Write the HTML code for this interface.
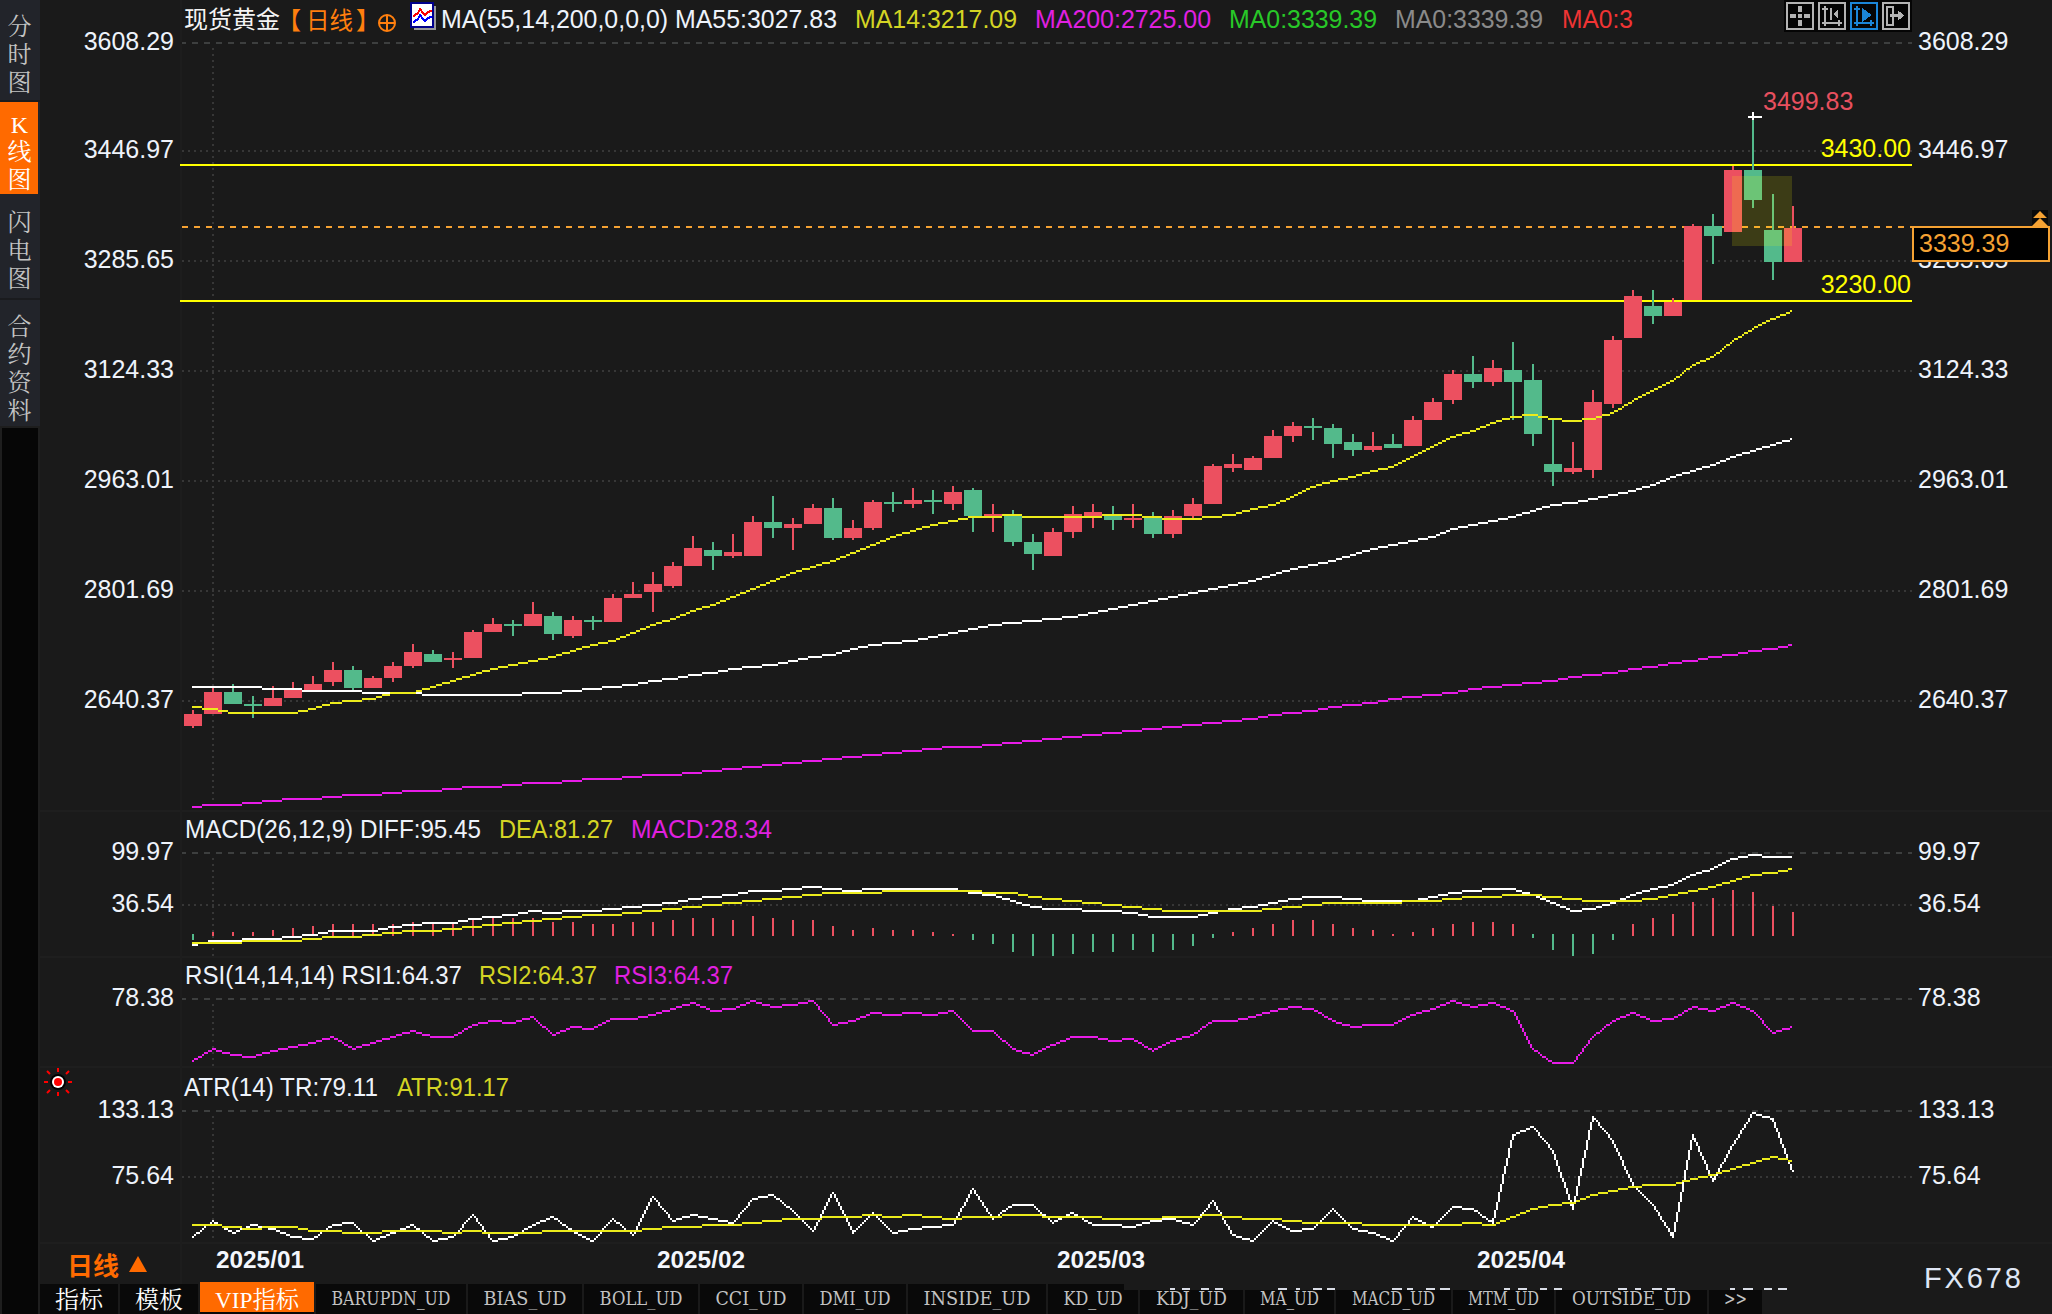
<!DOCTYPE html>
<html lang="zh"><head><meta charset="utf-8"><title>现货黄金 日线</title>
<style>html,body{margin:0;padding:0;background:#1a1a1a;overflow:hidden}svg{display:block}</style>
</head><body>
<svg width="2052" height="1314" viewBox="0 0 2052 1314" font-family="Liberation Sans, Noto Sans CJK SC, sans-serif" shape-rendering="crispEdges">
<rect x="0" y="0" width="2052" height="1314" fill="#1a1a1a"/>
<rect x="0" y="0" width="40" height="426" fill="#22242a"/>
<rect x="0" y="426" width="40" height="888" fill="#1e1e1e"/>
<rect x="2" y="428" width="36" height="886" fill="#060606"/>
<rect x="0" y="100" width="40" height="2" fill="#1a1b1e"/>
<rect x="0" y="298" width="40" height="2" fill="#1a1b1e"/>
<rect x="0" y="102" width="38" height="92" fill="#ff6a00"/>
<text x="19.5" y="35" font-size="24" fill="#c4c4c4" text-anchor="middle" font-family="Liberation Serif, Noto Serif CJK SC, serif">分</text>
<text x="19.5" y="63" font-size="24" fill="#c4c4c4" text-anchor="middle" font-family="Liberation Serif, Noto Serif CJK SC, serif">时</text>
<text x="19.5" y="91" font-size="24" fill="#c4c4c4" text-anchor="middle" font-family="Liberation Serif, Noto Serif CJK SC, serif">图</text>
<text x="19.5" y="133" font-size="24" fill="#ffffff" text-anchor="middle" font-family="Liberation Serif, Noto Serif CJK SC, serif">K</text>
<text x="19.5" y="160" font-size="24" fill="#ffffff" text-anchor="middle" font-family="Liberation Serif, Noto Serif CJK SC, serif">线</text>
<text x="19.5" y="188" font-size="24" fill="#ffffff" text-anchor="middle" font-family="Liberation Serif, Noto Serif CJK SC, serif">图</text>
<text x="19.5" y="231" font-size="24" fill="#c4c4c4" text-anchor="middle" font-family="Liberation Serif, Noto Serif CJK SC, serif">闪</text>
<text x="19.5" y="259" font-size="24" fill="#c4c4c4" text-anchor="middle" font-family="Liberation Serif, Noto Serif CJK SC, serif">电</text>
<text x="19.5" y="287" font-size="24" fill="#c4c4c4" text-anchor="middle" font-family="Liberation Serif, Noto Serif CJK SC, serif">图</text>
<text x="19.5" y="335" font-size="24" fill="#c4c4c4" text-anchor="middle" font-family="Liberation Serif, Noto Serif CJK SC, serif">合</text>
<text x="19.5" y="363" font-size="24" fill="#c4c4c4" text-anchor="middle" font-family="Liberation Serif, Noto Serif CJK SC, serif">约</text>
<text x="19.5" y="391" font-size="24" fill="#c4c4c4" text-anchor="middle" font-family="Liberation Serif, Noto Serif CJK SC, serif">资</text>
<text x="19.5" y="419" font-size="24" fill="#c4c4c4" text-anchor="middle" font-family="Liberation Serif, Noto Serif CJK SC, serif">料</text>
<rect x="40" y="810" width="2012" height="2" fill="#1e1e1e"/>
<rect x="40" y="956" width="2012" height="2" fill="#1e1e1e"/>
<rect x="40" y="1066" width="2012" height="2" fill="#1e1e1e"/>
<rect x="40" y="1242" width="2012" height="2" fill="#1e1e1e"/>
<rect x="180" y="0" width="2" height="1284" fill="#1d1d1d"/>
<line x1="180" y1="43" x2="1912" y2="43" stroke="#3d3f3f" stroke-width="2" stroke-dasharray="6 6"/>
<rect x="180" y="42" width="2" height="2" fill="#1a1a1a"/>
<line x1="182" y1="151" x2="1912" y2="151" stroke="#373737" stroke-width="2" stroke-dasharray="2 4"/>
<line x1="182" y1="261" x2="1912" y2="261" stroke="#373737" stroke-width="2" stroke-dasharray="2 4"/>
<line x1="182" y1="371" x2="1912" y2="371" stroke="#373737" stroke-width="2" stroke-dasharray="2 4"/>
<line x1="182" y1="481" x2="1912" y2="481" stroke="#373737" stroke-width="2" stroke-dasharray="2 4"/>
<line x1="182" y1="591" x2="1912" y2="591" stroke="#373737" stroke-width="2" stroke-dasharray="2 4"/>
<line x1="182" y1="701" x2="1912" y2="701" stroke="#373737" stroke-width="2" stroke-dasharray="2 4"/>
<line x1="180" y1="853" x2="1912" y2="853" stroke="#3d3f3f" stroke-width="2" stroke-dasharray="6 6"/>
<rect x="180" y="852" width="2" height="2" fill="#1a1a1a"/>
<line x1="182" y1="905" x2="1912" y2="905" stroke="#373737" stroke-width="2" stroke-dasharray="2 4"/>
<line x1="180" y1="999" x2="1912" y2="999" stroke="#3d3f3f" stroke-width="2" stroke-dasharray="6 6"/>
<rect x="180" y="998" width="2" height="2" fill="#1a1a1a"/>
<line x1="180" y1="1111" x2="1912" y2="1111" stroke="#3d3f3f" stroke-width="2" stroke-dasharray="6 6"/>
<rect x="180" y="1110" width="2" height="2" fill="#1a1a1a"/>
<line x1="182" y1="1177" x2="1912" y2="1177" stroke="#373737" stroke-width="2" stroke-dasharray="2 4"/>
<line x1="213" y1="48" x2="213" y2="808" stroke="#373737" stroke-width="2" stroke-dasharray="2 4"/>
<line x1="213" y1="858" x2="213" y2="956" stroke="#373737" stroke-width="2" stroke-dasharray="2 4"/>
<line x1="213" y1="1004" x2="213" y2="1066" stroke="#373737" stroke-width="2" stroke-dasharray="2 4"/>
<line x1="213" y1="1116" x2="213" y2="1242" stroke="#373737" stroke-width="2" stroke-dasharray="2 4"/>
<rect x="180" y="164" width="1732" height="2" fill="#ffff00"/>
<rect x="180" y="300" width="1732" height="2" fill="#ffff00"/>
<line x1="182" y1="227" x2="1912" y2="227" stroke="#f5a233" stroke-width="2" stroke-dasharray="6 6"/>
<rect x="192" y="710" width="2" height="18" fill="#ec5060"/>
<rect x="184" y="714" width="18" height="12" fill="#ec5060"/>
<rect x="212" y="688" width="2" height="26" fill="#ec5060"/>
<rect x="204" y="692" width="18" height="22" fill="#ec5060"/>
<rect x="232" y="684" width="2" height="20" fill="#53ba8b"/>
<rect x="224" y="692" width="18" height="12" fill="#53ba8b"/>
<rect x="252" y="696" width="2" height="22" fill="#53ba8b"/>
<rect x="244" y="704" width="18" height="2" fill="#53ba8b"/>
<rect x="272" y="686" width="2" height="20" fill="#ec5060"/>
<rect x="264" y="698" width="18" height="8" fill="#ec5060"/>
<rect x="292" y="682" width="2" height="16" fill="#ec5060"/>
<rect x="284" y="690" width="18" height="8" fill="#ec5060"/>
<rect x="312" y="676" width="2" height="14" fill="#ec5060"/>
<rect x="304" y="684" width="18" height="6" fill="#ec5060"/>
<rect x="332" y="662" width="2" height="24" fill="#ec5060"/>
<rect x="324" y="670" width="18" height="12" fill="#ec5060"/>
<rect x="352" y="666" width="2" height="24" fill="#53ba8b"/>
<rect x="344" y="670" width="18" height="18" fill="#53ba8b"/>
<rect x="372" y="676" width="2" height="12" fill="#ec5060"/>
<rect x="364" y="678" width="18" height="10" fill="#ec5060"/>
<rect x="392" y="662" width="2" height="20" fill="#ec5060"/>
<rect x="384" y="666" width="18" height="12" fill="#ec5060"/>
<rect x="412" y="644" width="2" height="24" fill="#ec5060"/>
<rect x="404" y="652" width="18" height="14" fill="#ec5060"/>
<rect x="432" y="650" width="2" height="12" fill="#53ba8b"/>
<rect x="424" y="654" width="18" height="8" fill="#53ba8b"/>
<rect x="452" y="652" width="2" height="16" fill="#ec5060"/>
<rect x="444" y="658" width="18" height="2" fill="#ec5060"/>
<rect x="472" y="630" width="2" height="28" fill="#ec5060"/>
<rect x="464" y="632" width="18" height="26" fill="#ec5060"/>
<rect x="492" y="618" width="2" height="14" fill="#ec5060"/>
<rect x="484" y="624" width="18" height="8" fill="#ec5060"/>
<rect x="512" y="620" width="2" height="16" fill="#53ba8b"/>
<rect x="504" y="624" width="18" height="2" fill="#53ba8b"/>
<rect x="532" y="602" width="2" height="24" fill="#ec5060"/>
<rect x="524" y="614" width="18" height="12" fill="#ec5060"/>
<rect x="552" y="612" width="2" height="28" fill="#53ba8b"/>
<rect x="544" y="616" width="18" height="18" fill="#53ba8b"/>
<rect x="572" y="616" width="2" height="22" fill="#ec5060"/>
<rect x="564" y="620" width="18" height="16" fill="#ec5060"/>
<rect x="592" y="616" width="2" height="14" fill="#53ba8b"/>
<rect x="584" y="620" width="18" height="2" fill="#53ba8b"/>
<rect x="612" y="594" width="2" height="28" fill="#ec5060"/>
<rect x="604" y="598" width="18" height="24" fill="#ec5060"/>
<rect x="632" y="582" width="2" height="16" fill="#ec5060"/>
<rect x="624" y="594" width="18" height="4" fill="#ec5060"/>
<rect x="652" y="572" width="2" height="40" fill="#ec5060"/>
<rect x="644" y="584" width="18" height="8" fill="#ec5060"/>
<rect x="672" y="562" width="2" height="26" fill="#ec5060"/>
<rect x="664" y="566" width="18" height="20" fill="#ec5060"/>
<rect x="692" y="536" width="2" height="30" fill="#ec5060"/>
<rect x="684" y="548" width="18" height="18" fill="#ec5060"/>
<rect x="712" y="542" width="2" height="28" fill="#53ba8b"/>
<rect x="704" y="550" width="18" height="6" fill="#53ba8b"/>
<rect x="732" y="534" width="2" height="24" fill="#ec5060"/>
<rect x="724" y="552" width="18" height="4" fill="#ec5060"/>
<rect x="752" y="516" width="2" height="40" fill="#ec5060"/>
<rect x="744" y="522" width="18" height="34" fill="#ec5060"/>
<rect x="772" y="496" width="2" height="42" fill="#53ba8b"/>
<rect x="764" y="522" width="18" height="6" fill="#53ba8b"/>
<rect x="792" y="518" width="2" height="32" fill="#ec5060"/>
<rect x="784" y="524" width="18" height="4" fill="#ec5060"/>
<rect x="812" y="504" width="2" height="20" fill="#ec5060"/>
<rect x="804" y="508" width="18" height="16" fill="#ec5060"/>
<rect x="832" y="498" width="2" height="42" fill="#53ba8b"/>
<rect x="824" y="508" width="18" height="30" fill="#53ba8b"/>
<rect x="852" y="520" width="2" height="20" fill="#ec5060"/>
<rect x="844" y="528" width="18" height="10" fill="#ec5060"/>
<rect x="872" y="500" width="2" height="30" fill="#ec5060"/>
<rect x="864" y="502" width="18" height="26" fill="#ec5060"/>
<rect x="892" y="492" width="2" height="20" fill="#53ba8b"/>
<rect x="884" y="502" width="18" height="2" fill="#53ba8b"/>
<rect x="912" y="488" width="2" height="20" fill="#ec5060"/>
<rect x="904" y="500" width="18" height="4" fill="#ec5060"/>
<rect x="932" y="490" width="2" height="24" fill="#53ba8b"/>
<rect x="924" y="500" width="18" height="2" fill="#53ba8b"/>
<rect x="952" y="486" width="2" height="24" fill="#ec5060"/>
<rect x="944" y="492" width="18" height="12" fill="#ec5060"/>
<rect x="972" y="488" width="2" height="44" fill="#53ba8b"/>
<rect x="964" y="490" width="18" height="26" fill="#53ba8b"/>
<rect x="992" y="504" width="2" height="28" fill="#ec5060"/>
<rect x="984" y="514" width="18" height="4" fill="#ec5060"/>
<rect x="1012" y="510" width="2" height="36" fill="#53ba8b"/>
<rect x="1004" y="516" width="18" height="26" fill="#53ba8b"/>
<rect x="1032" y="534" width="2" height="36" fill="#53ba8b"/>
<rect x="1024" y="542" width="18" height="12" fill="#53ba8b"/>
<rect x="1052" y="528" width="2" height="28" fill="#ec5060"/>
<rect x="1044" y="532" width="18" height="24" fill="#ec5060"/>
<rect x="1072" y="506" width="2" height="32" fill="#ec5060"/>
<rect x="1064" y="514" width="18" height="18" fill="#ec5060"/>
<rect x="1092" y="504" width="2" height="24" fill="#ec5060"/>
<rect x="1084" y="512" width="18" height="4" fill="#ec5060"/>
<rect x="1112" y="506" width="2" height="24" fill="#53ba8b"/>
<rect x="1104" y="514" width="18" height="6" fill="#53ba8b"/>
<rect x="1132" y="504" width="2" height="24" fill="#ec5060"/>
<rect x="1124" y="518" width="18" height="2" fill="#ec5060"/>
<rect x="1152" y="512" width="2" height="26" fill="#53ba8b"/>
<rect x="1144" y="516" width="18" height="18" fill="#53ba8b"/>
<rect x="1172" y="510" width="2" height="28" fill="#ec5060"/>
<rect x="1164" y="516" width="18" height="18" fill="#ec5060"/>
<rect x="1192" y="498" width="2" height="20" fill="#ec5060"/>
<rect x="1184" y="504" width="18" height="12" fill="#ec5060"/>
<rect x="1212" y="464" width="2" height="40" fill="#ec5060"/>
<rect x="1204" y="466" width="18" height="38" fill="#ec5060"/>
<rect x="1232" y="454" width="2" height="18" fill="#ec5060"/>
<rect x="1224" y="464" width="18" height="4" fill="#ec5060"/>
<rect x="1252" y="456" width="2" height="14" fill="#ec5060"/>
<rect x="1244" y="458" width="18" height="12" fill="#ec5060"/>
<rect x="1272" y="430" width="2" height="28" fill="#ec5060"/>
<rect x="1264" y="436" width="18" height="22" fill="#ec5060"/>
<rect x="1292" y="422" width="2" height="20" fill="#ec5060"/>
<rect x="1284" y="426" width="18" height="10" fill="#ec5060"/>
<rect x="1312" y="418" width="2" height="22" fill="#53ba8b"/>
<rect x="1304" y="426" width="18" height="2" fill="#53ba8b"/>
<rect x="1332" y="424" width="2" height="34" fill="#53ba8b"/>
<rect x="1324" y="428" width="18" height="16" fill="#53ba8b"/>
<rect x="1352" y="434" width="2" height="22" fill="#53ba8b"/>
<rect x="1344" y="442" width="18" height="8" fill="#53ba8b"/>
<rect x="1372" y="432" width="2" height="20" fill="#ec5060"/>
<rect x="1364" y="446" width="18" height="4" fill="#ec5060"/>
<rect x="1392" y="434" width="2" height="14" fill="#53ba8b"/>
<rect x="1384" y="444" width="18" height="4" fill="#53ba8b"/>
<rect x="1412" y="416" width="2" height="30" fill="#ec5060"/>
<rect x="1404" y="420" width="18" height="26" fill="#ec5060"/>
<rect x="1432" y="398" width="2" height="22" fill="#ec5060"/>
<rect x="1424" y="402" width="18" height="18" fill="#ec5060"/>
<rect x="1452" y="370" width="2" height="34" fill="#ec5060"/>
<rect x="1444" y="374" width="18" height="26" fill="#ec5060"/>
<rect x="1472" y="356" width="2" height="32" fill="#53ba8b"/>
<rect x="1464" y="374" width="18" height="8" fill="#53ba8b"/>
<rect x="1492" y="360" width="2" height="26" fill="#ec5060"/>
<rect x="1484" y="368" width="18" height="14" fill="#ec5060"/>
<rect x="1512" y="342" width="2" height="78" fill="#53ba8b"/>
<rect x="1504" y="370" width="18" height="12" fill="#53ba8b"/>
<rect x="1532" y="364" width="2" height="82" fill="#53ba8b"/>
<rect x="1524" y="380" width="18" height="54" fill="#53ba8b"/>
<rect x="1552" y="418" width="2" height="68" fill="#53ba8b"/>
<rect x="1544" y="464" width="18" height="8" fill="#53ba8b"/>
<rect x="1572" y="442" width="2" height="32" fill="#ec5060"/>
<rect x="1564" y="468" width="18" height="4" fill="#ec5060"/>
<rect x="1592" y="390" width="2" height="88" fill="#ec5060"/>
<rect x="1584" y="402" width="18" height="68" fill="#ec5060"/>
<rect x="1612" y="336" width="2" height="72" fill="#ec5060"/>
<rect x="1604" y="340" width="18" height="64" fill="#ec5060"/>
<rect x="1632" y="290" width="2" height="48" fill="#ec5060"/>
<rect x="1624" y="296" width="18" height="42" fill="#ec5060"/>
<rect x="1652" y="290" width="2" height="34" fill="#53ba8b"/>
<rect x="1644" y="306" width="18" height="10" fill="#53ba8b"/>
<rect x="1672" y="298" width="2" height="18" fill="#ec5060"/>
<rect x="1664" y="302" width="18" height="14" fill="#ec5060"/>
<rect x="1692" y="224" width="2" height="76" fill="#ec5060"/>
<rect x="1684" y="226" width="18" height="74" fill="#ec5060"/>
<rect x="1712" y="214" width="2" height="50" fill="#53ba8b"/>
<rect x="1704" y="226" width="18" height="10" fill="#53ba8b"/>
<rect x="1732" y="166" width="2" height="66" fill="#ec5060"/>
<rect x="1724" y="170" width="18" height="62" fill="#ec5060"/>
<rect x="1752" y="116" width="2" height="92" fill="#53ba8b"/>
<rect x="1744" y="170" width="18" height="30" fill="#53ba8b"/>
<rect x="1772" y="194" width="2" height="86" fill="#53ba8b"/>
<rect x="1764" y="230" width="18" height="32" fill="#53ba8b"/>
<rect x="1792" y="206" width="2" height="56" fill="#ec5060"/>
<rect x="1784" y="228" width="18" height="34" fill="#ec5060"/>
<rect x="1732" y="176" width="60" height="70" fill="rgba(255,255,0,0.15)"/>
<rect x="1748" y="116" width="14" height="2" fill="#ffffff"/>
<rect x="1752" y="112" width="2" height="8" fill="#ffffff"/>
<path d="M1788 644h4v2h-4zM1778 646h10v2h-10zM1762 648h16v2h-16zM1748 650h14v2h-14zM1738 652h10v2h-10zM1722 654h16v2h-16zM1708 656h14v2h-14zM1698 658h10v2h-10zM1682 660h16v2h-16zM1668 662h14v2h-14zM1658 664h10v2h-10zM1642 666h16v2h-16zM1628 668h14v2h-14zM1618 670h10v2h-10zM1602 672h16v2h-16zM1582 674h20v2h-20zM1568 676h14v2h-14zM1558 678h10v2h-10zM1542 680h16v2h-16zM1522 682h20v2h-20zM1502 684h20v2h-20zM1482 686h20v2h-20zM1468 688h14v2h-14zM1458 690h10v2h-10zM1442 692h16v2h-16zM1422 694h20v2h-20zM1402 696h20v2h-20zM1388 698h14v2h-14zM1378 700h10v2h-10zM1362 702h16v2h-16zM1342 704h20v2h-20zM1328 706h14v2h-14zM1318 708h10v2h-10zM1302 710h16v2h-16zM1282 712h20v2h-20zM1268 714h14v2h-14zM1258 716h10v2h-10zM1242 718h16v2h-16zM1222 720h20v2h-20zM1202 722h20v2h-20zM1182 724h20v2h-20zM1162 726h20v2h-20zM1142 728h20v2h-20zM1122 730h20v2h-20zM1102 732h20v2h-20zM1082 734h20v2h-20zM1062 736h20v2h-20zM1042 738h20v2h-20zM1022 740h20v2h-20zM1002 742h20v2h-20zM982 744h20v2h-20zM942 746h40v2h-40zM922 748h20v2h-20zM902 750h20v2h-20zM882 752h20v2h-20zM862 754h20v2h-20zM842 756h20v2h-20zM822 758h20v2h-20zM802 760h20v2h-20zM782 762h20v2h-20zM762 764h20v2h-20zM742 766h20v2h-20zM722 768h20v2h-20zM702 770h20v2h-20zM682 772h20v2h-20zM642 774h40v2h-40zM622 776h20v2h-20zM582 778h40v2h-40zM562 780h20v2h-20zM522 782h40v2h-40zM502 784h20v2h-20zM462 786h40v2h-40zM442 788h20v2h-20zM402 790h40v2h-40zM382 792h20v2h-20zM342 794h40v2h-40zM322 796h20v2h-20zM282 798h40v2h-40zM262 800h20v2h-20zM242 802h20v2h-20zM202 804h40v2h-40zM192 806h10v2h-10z" fill="#e81ce8"/>
<path d="M1790 438h2v2h-2zM1782 440h8v2h-8zM1776 442h6v2h-6zM1770 444h6v2h-6zM1762 446h8v2h-8zM1756 448h6v2h-6zM1750 450h6v2h-6zM1742 452h8v2h-8zM1736 454h6v2h-6zM1730 456h6v2h-6zM1726 458h4v2h-4zM1720 460h6v2h-6zM1716 462h4v2h-4zM1710 464h6v2h-6zM1702 466h8v2h-8zM1696 468h6v2h-6zM1690 470h6v2h-6zM1682 472h8v2h-8zM1676 474h6v2h-6zM1670 476h6v2h-6zM1666 478h4v2h-4zM1660 480h6v2h-6zM1656 482h4v2h-4zM1650 484h6v2h-6zM1642 486h8v2h-8zM1636 488h6v2h-6zM1628 490h8v2h-8zM1618 492h10v2h-10zM1608 494h10v2h-10zM1598 496h10v2h-10zM1588 498h10v2h-10zM1578 500h10v2h-10zM1562 502h16v2h-16zM1550 504h12v2h-12zM1542 506h8v2h-8zM1536 508h6v2h-6zM1530 510h6v2h-6zM1522 512h8v2h-8zM1516 514h6v2h-6zM1508 516h8v2h-8zM1498 518h10v2h-10zM1488 520h10v2h-10zM1478 522h10v2h-10zM1468 524h10v2h-10zM1458 526h10v2h-10zM1450 528h8v2h-8zM1446 530h4v2h-4zM1440 532h6v2h-6zM1436 534h4v2h-4zM1428 536h8v2h-8zM1418 538h10v2h-10zM1408 540h10v2h-10zM1398 542h10v2h-10zM1388 544h10v2h-10zM1378 546h10v2h-10zM1370 548h8v2h-8zM1362 550h8v2h-8zM1356 552h6v2h-6zM1350 554h6v2h-6zM1342 556h8v2h-8zM1336 558h6v2h-6zM1328 560h8v2h-8zM1318 562h10v2h-10zM1308 564h10v2h-10zM1298 566h10v2h-10zM1290 568h8v2h-8zM1282 570h8v2h-8zM1276 572h6v2h-6zM1270 574h6v2h-6zM1262 576h8v2h-8zM1256 578h6v2h-6zM1248 580h8v2h-8zM1238 582h10v2h-10zM1228 584h10v2h-10zM1218 586h10v2h-10zM1208 588h10v2h-10zM1198 590h10v2h-10zM1188 592h10v2h-10zM1178 594h10v2h-10zM1168 596h10v2h-10zM1158 598h10v2h-10zM1148 600h10v2h-10zM1138 602h10v2h-10zM1128 604h10v2h-10zM1118 606h10v2h-10zM1108 608h10v2h-10zM1098 610h10v2h-10zM1088 612h10v2h-10zM1078 614h10v2h-10zM1062 616h16v2h-16zM1042 618h20v2h-20zM1022 620h20v2h-20zM1002 622h20v2h-20zM988 624h14v2h-14zM978 626h10v2h-10zM968 628h10v2h-10zM958 630h10v2h-10zM948 632h10v2h-10zM938 634h10v2h-10zM928 636h10v2h-10zM918 638h10v2h-10zM902 640h16v2h-16zM882 642h20v2h-20zM868 644h14v2h-14zM858 646h10v2h-10zM850 648h8v2h-8zM842 650h8v2h-8zM836 652h6v2h-6zM822 654h14v2h-14zM808 656h14v2h-14zM798 658h10v2h-10zM788 660h10v2h-10zM778 662h10v2h-10zM762 664h16v2h-16zM742 666h20v2h-20zM728 668h14v2h-14zM718 670h10v2h-10zM702 672h16v2h-16zM688 674h14v2h-14zM678 676h10v2h-10zM662 678h16v2h-16zM648 680h14v2h-14zM638 682h10v2h-10zM622 684h16v2h-16zM192 686h70v2h-70zM602 686h20v2h-20zM262 688h40v2h-40zM582 688h20v2h-20zM302 690h60v2h-60zM562 690h20v2h-20zM362 692h60v2h-60zM522 692h40v2h-40zM422 694h100v2h-100z" fill="#ffffff"/>
<path d="M1790 310h2v2h-2zM1786 312h4v2h-4zM1780 314h6v2h-6zM1776 316h4v2h-4zM1770 318h6v2h-6zM1766 320h4v2h-4zM1762 322h4v2h-4zM1758 324h4v2h-4zM1754 326h4v2h-4zM1752 328h2v2h-2zM1748 330h4v2h-4zM1744 332h4v2h-4zM1742 334h2v2h-2zM1738 336h4v2h-4zM1734 338h4v2h-4zM1732 340h2v2h-2zM1730 342h2v2h-2zM1726 344h4v2h-4zM1724 346h2v2h-2zM1722 348h2v2h-2zM1720 350h2v2h-2zM1716 352h4v2h-4zM1714 354h2v2h-2zM1710 356h4v2h-4zM1706 358h4v2h-4zM1700 360h6v2h-6zM1696 362h4v2h-4zM1692 364h4v2h-4zM1690 366h2v2h-2zM1686 368h4v2h-4zM1684 370h2v2h-2zM1682 372h2v2h-2zM1680 374h2v2h-2zM1676 376h4v2h-4zM1674 378h2v2h-2zM1670 380h4v2h-4zM1666 382h4v2h-4zM1662 384h4v2h-4zM1658 386h4v2h-4zM1654 388h4v2h-4zM1650 390h4v2h-4zM1646 392h4v2h-4zM1642 394h4v2h-4zM1638 396h4v2h-4zM1634 398h4v2h-4zM1632 400h2v2h-2zM1628 402h4v2h-4zM1624 404h4v2h-4zM1622 406h2v2h-2zM1618 408h4v2h-4zM1614 410h4v2h-4zM1610 412h4v2h-4zM1522 414h16v2h-16zM1602 414h8v2h-8zM1510 416h12v2h-12zM1538 416h10v2h-10zM1596 416h6v2h-6zM1502 418h8v2h-8zM1548 418h14v2h-14zM1582 418h14v2h-14zM1496 420h6v2h-6zM1562 420h20v2h-20zM1490 422h6v2h-6zM1486 424h4v2h-4zM1480 426h6v2h-6zM1476 428h4v2h-4zM1470 430h6v2h-6zM1462 432h8v2h-8zM1456 434h6v2h-6zM1450 436h6v2h-6zM1446 438h4v2h-4zM1442 440h4v2h-4zM1438 442h4v2h-4zM1434 444h4v2h-4zM1430 446h4v2h-4zM1426 448h4v2h-4zM1422 450h4v2h-4zM1418 452h4v2h-4zM1414 454h4v2h-4zM1410 456h4v2h-4zM1406 458h4v2h-4zM1402 460h4v2h-4zM1398 462h4v2h-4zM1394 464h4v2h-4zM1388 466h6v2h-6zM1378 468h10v2h-10zM1370 470h8v2h-8zM1362 472h8v2h-8zM1356 474h6v2h-6zM1348 476h8v2h-8zM1338 478h10v2h-10zM1330 480h8v2h-8zM1322 482h8v2h-8zM1316 484h6v2h-6zM1310 486h6v2h-6zM1306 488h4v2h-4zM1302 490h4v2h-4zM1298 492h4v2h-4zM1294 494h4v2h-4zM1290 496h4v2h-4zM1286 498h4v2h-4zM1280 500h6v2h-6zM1276 502h4v2h-4zM1268 504h8v2h-8zM1258 506h10v2h-10zM1250 508h8v2h-8zM1242 510h8v2h-8zM1236 512h6v2h-6zM1002 514h20v2h-20zM1102 514h40v2h-40zM1222 514h14v2h-14zM968 516h34v2h-34zM1022 516h80v2h-80zM1142 516h20v2h-20zM1202 516h20v2h-20zM958 518h10v2h-10zM1162 518h40v2h-40zM948 520h10v2h-10zM938 522h10v2h-10zM930 524h8v2h-8zM922 526h8v2h-8zM916 528h6v2h-6zM910 530h6v2h-6zM902 532h8v2h-8zM896 534h6v2h-6zM890 536h6v2h-6zM886 538h4v2h-4zM880 540h6v2h-6zM876 542h4v2h-4zM870 544h6v2h-6zM866 546h4v2h-4zM860 548h6v2h-6zM856 550h4v2h-4zM850 552h6v2h-6zM846 554h4v2h-4zM840 556h6v2h-6zM836 558h4v2h-4zM830 560h6v2h-6zM822 562h8v2h-8zM816 564h6v2h-6zM810 566h6v2h-6zM802 568h8v2h-8zM796 570h6v2h-6zM790 572h6v2h-6zM786 574h4v2h-4zM780 576h6v2h-6zM776 578h4v2h-4zM770 580h6v2h-6zM766 582h4v2h-4zM760 584h6v2h-6zM756 586h4v2h-4zM750 588h6v2h-6zM746 590h4v2h-4zM740 592h6v2h-6zM736 594h4v2h-4zM730 596h6v2h-6zM726 598h4v2h-4zM720 600h6v2h-6zM716 602h4v2h-4zM710 604h6v2h-6zM702 606h8v2h-8zM696 608h6v2h-6zM690 610h6v2h-6zM686 612h4v2h-4zM680 614h6v2h-6zM676 616h4v2h-4zM670 618h6v2h-6zM662 620h8v2h-8zM656 622h6v2h-6zM650 624h6v2h-6zM646 626h4v2h-4zM640 628h6v2h-6zM636 630h4v2h-4zM630 632h6v2h-6zM626 634h4v2h-4zM620 636h6v2h-6zM616 638h4v2h-4zM608 640h8v2h-8zM598 642h10v2h-10zM590 644h8v2h-8zM582 646h8v2h-8zM576 648h6v2h-6zM570 650h6v2h-6zM562 652h8v2h-8zM556 654h6v2h-6zM548 656h8v2h-8zM538 658h10v2h-10zM528 660h10v2h-10zM518 662h10v2h-10zM508 664h10v2h-10zM498 666h10v2h-10zM490 668h8v2h-8zM482 670h8v2h-8zM476 672h6v2h-6zM470 674h6v2h-6zM462 676h8v2h-8zM456 678h6v2h-6zM450 680h6v2h-6zM442 682h8v2h-8zM436 684h6v2h-6zM430 686h6v2h-6zM422 688h8v2h-8zM416 690h6v2h-6zM390 692h26v2h-26zM382 694h8v2h-8zM376 696h6v2h-6zM362 698h14v2h-14zM342 700h20v2h-20zM330 702h12v2h-12zM322 704h8v2h-8zM192 706h10v2h-10zM316 706h6v2h-6zM202 708h16v2h-16zM308 708h8v2h-8zM218 710h10v2h-10zM298 710h10v2h-10zM228 712h70v2h-70z" fill="#ecec1c"/>
<rect x="192" y="934" width="2" height="6" fill="#53ba8b"/>
<rect x="212" y="932" width="2" height="4" fill="#ec5060"/>
<rect x="232" y="932" width="2" height="4" fill="#ec5060"/>
<rect x="252" y="932" width="2" height="4" fill="#ec5060"/>
<rect x="272" y="930" width="2" height="6" fill="#ec5060"/>
<rect x="292" y="928" width="2" height="8" fill="#ec5060"/>
<rect x="312" y="926" width="2" height="10" fill="#ec5060"/>
<rect x="332" y="924" width="2" height="12" fill="#ec5060"/>
<rect x="352" y="924" width="2" height="12" fill="#ec5060"/>
<rect x="372" y="924" width="2" height="12" fill="#ec5060"/>
<rect x="392" y="924" width="2" height="12" fill="#ec5060"/>
<rect x="412" y="922" width="2" height="14" fill="#ec5060"/>
<rect x="432" y="922" width="2" height="14" fill="#ec5060"/>
<rect x="452" y="922" width="2" height="14" fill="#ec5060"/>
<rect x="472" y="920" width="2" height="16" fill="#ec5060"/>
<rect x="492" y="918" width="2" height="18" fill="#ec5060"/>
<rect x="512" y="918" width="2" height="18" fill="#ec5060"/>
<rect x="532" y="918" width="2" height="18" fill="#ec5060"/>
<rect x="552" y="922" width="2" height="14" fill="#ec5060"/>
<rect x="572" y="922" width="2" height="14" fill="#ec5060"/>
<rect x="592" y="924" width="2" height="12" fill="#ec5060"/>
<rect x="612" y="924" width="2" height="12" fill="#ec5060"/>
<rect x="632" y="922" width="2" height="14" fill="#ec5060"/>
<rect x="652" y="922" width="2" height="14" fill="#ec5060"/>
<rect x="672" y="920" width="2" height="16" fill="#ec5060"/>
<rect x="692" y="918" width="2" height="18" fill="#ec5060"/>
<rect x="712" y="918" width="2" height="18" fill="#ec5060"/>
<rect x="732" y="920" width="2" height="16" fill="#ec5060"/>
<rect x="752" y="916" width="2" height="20" fill="#ec5060"/>
<rect x="772" y="918" width="2" height="18" fill="#ec5060"/>
<rect x="792" y="920" width="2" height="16" fill="#ec5060"/>
<rect x="812" y="920" width="2" height="16" fill="#ec5060"/>
<rect x="832" y="926" width="2" height="10" fill="#ec5060"/>
<rect x="852" y="930" width="2" height="6" fill="#ec5060"/>
<rect x="872" y="928" width="2" height="8" fill="#ec5060"/>
<rect x="892" y="930" width="2" height="6" fill="#ec5060"/>
<rect x="912" y="930" width="2" height="6" fill="#ec5060"/>
<rect x="932" y="932" width="2" height="4" fill="#ec5060"/>
<rect x="952" y="934" width="2" height="2" fill="#ec5060"/>
<rect x="972" y="934" width="2" height="6" fill="#53ba8b"/>
<rect x="992" y="934" width="2" height="10" fill="#53ba8b"/>
<rect x="1012" y="934" width="2" height="18" fill="#53ba8b"/>
<rect x="1032" y="934" width="2" height="22" fill="#53ba8b"/>
<rect x="1052" y="934" width="2" height="22" fill="#53ba8b"/>
<rect x="1072" y="934" width="2" height="20" fill="#53ba8b"/>
<rect x="1092" y="934" width="2" height="18" fill="#53ba8b"/>
<rect x="1112" y="934" width="2" height="18" fill="#53ba8b"/>
<rect x="1132" y="934" width="2" height="16" fill="#53ba8b"/>
<rect x="1152" y="934" width="2" height="18" fill="#53ba8b"/>
<rect x="1172" y="934" width="2" height="16" fill="#53ba8b"/>
<rect x="1192" y="934" width="2" height="12" fill="#53ba8b"/>
<rect x="1212" y="934" width="2" height="4" fill="#53ba8b"/>
<rect x="1232" y="932" width="2" height="4" fill="#ec5060"/>
<rect x="1252" y="928" width="2" height="8" fill="#ec5060"/>
<rect x="1272" y="924" width="2" height="12" fill="#ec5060"/>
<rect x="1292" y="920" width="2" height="16" fill="#ec5060"/>
<rect x="1312" y="920" width="2" height="16" fill="#ec5060"/>
<rect x="1332" y="924" width="2" height="12" fill="#ec5060"/>
<rect x="1352" y="928" width="2" height="8" fill="#ec5060"/>
<rect x="1372" y="930" width="2" height="6" fill="#ec5060"/>
<rect x="1392" y="934" width="2" height="2" fill="#ec5060"/>
<rect x="1412" y="932" width="2" height="4" fill="#ec5060"/>
<rect x="1432" y="928" width="2" height="8" fill="#ec5060"/>
<rect x="1452" y="924" width="2" height="12" fill="#ec5060"/>
<rect x="1472" y="922" width="2" height="14" fill="#ec5060"/>
<rect x="1492" y="922" width="2" height="14" fill="#ec5060"/>
<rect x="1512" y="924" width="2" height="12" fill="#ec5060"/>
<rect x="1532" y="934" width="2" height="4" fill="#53ba8b"/>
<rect x="1552" y="934" width="2" height="16" fill="#53ba8b"/>
<rect x="1572" y="934" width="2" height="22" fill="#53ba8b"/>
<rect x="1592" y="934" width="2" height="20" fill="#53ba8b"/>
<rect x="1612" y="934" width="2" height="6" fill="#53ba8b"/>
<rect x="1632" y="924" width="2" height="12" fill="#ec5060"/>
<rect x="1652" y="918" width="2" height="18" fill="#ec5060"/>
<rect x="1672" y="914" width="2" height="22" fill="#ec5060"/>
<rect x="1692" y="902" width="2" height="34" fill="#ec5060"/>
<rect x="1712" y="898" width="2" height="38" fill="#ec5060"/>
<rect x="1732" y="890" width="2" height="46" fill="#ec5060"/>
<rect x="1752" y="892" width="2" height="44" fill="#ec5060"/>
<rect x="1772" y="906" width="2" height="30" fill="#ec5060"/>
<rect x="1792" y="912" width="2" height="24" fill="#ec5060"/>
<path d="M1748 854h14v2h-14zM1738 856h10v2h-10zM1762 856h30v2h-30zM1730 858h8v2h-8zM1726 860h4v2h-4zM1722 862h4v2h-4zM1718 864h4v2h-4zM1714 866h4v2h-4zM1710 868h4v2h-4zM1702 870h8v2h-8zM1696 872h6v2h-6zM1690 874h6v2h-6zM1686 876h4v2h-4zM1682 878h4v2h-4zM1678 880h4v2h-4zM1674 882h4v2h-4zM1668 884h6v2h-6zM802 886h20v2h-20zM1658 886h10v2h-10zM782 888h20v2h-20zM822 888h20v2h-20zM862 888h96v2h-96zM1482 888h34v2h-34zM1650 888h8v2h-8zM748 890h34v2h-34zM842 890h20v2h-20zM958 890h10v2h-10zM1462 890h20v2h-20zM1516 890h6v2h-6zM1642 890h8v2h-8zM738 892h10v2h-10zM968 892h14v2h-14zM1448 892h14v2h-14zM1522 892h8v2h-8zM1636 892h6v2h-6zM722 894h16v2h-16zM982 894h14v2h-14zM1438 894h10v2h-10zM1530 894h6v2h-6zM1630 894h6v2h-6zM702 896h20v2h-20zM996 896h6v2h-6zM1302 896h40v2h-40zM1428 896h10v2h-10zM1536 896h4v2h-4zM1626 896h4v2h-4zM688 898h14v2h-14zM1002 898h8v2h-8zM1288 898h14v2h-14zM1342 898h20v2h-20zM1418 898h10v2h-10zM1540 898h6v2h-6zM1620 898h6v2h-6zM678 900h10v2h-10zM1010 900h6v2h-6zM1278 900h10v2h-10zM1362 900h56v2h-56zM1546 900h4v2h-4zM1616 900h4v2h-4zM662 902h16v2h-16zM1016 902h6v2h-6zM1268 902h10v2h-10zM1550 902h6v2h-6zM1610 902h6v2h-6zM642 904h20v2h-20zM1022 904h8v2h-8zM1258 904h10v2h-10zM1556 904h4v2h-4zM1602 904h8v2h-8zM622 906h20v2h-20zM1030 906h12v2h-12zM1242 906h16v2h-16zM1560 906h6v2h-6zM1596 906h6v2h-6zM602 908h20v2h-20zM1042 908h40v2h-40zM1228 908h14v2h-14zM1566 908h4v2h-4zM1582 908h14v2h-14zM528 910h14v2h-14zM562 910h40v2h-40zM1082 910h40v2h-40zM1218 910h10v2h-10zM1570 910h12v2h-12zM518 912h10v2h-10zM542 912h20v2h-20zM1122 912h16v2h-16zM1208 912h10v2h-10zM502 914h16v2h-16zM1138 914h10v2h-10zM1198 914h10v2h-10zM482 916h20v2h-20zM1148 916h50v2h-50zM468 918h14v2h-14zM458 920h10v2h-10zM422 922h36v2h-36zM402 924h20v2h-20zM388 926h14v2h-14zM378 928h10v2h-10zM328 930h50v2h-50zM318 932h10v2h-10zM302 934h16v2h-16zM282 936h20v2h-20zM242 938h40v2h-40zM208 940h34v2h-34zM198 942h10v2h-10zM192 944h6v2h-6z" fill="#ffffff"/>
<path d="M1788 868h4v2h-4zM1778 870h10v2h-10zM1762 872h16v2h-16zM1750 874h12v2h-12zM1742 876h8v2h-8zM1736 878h6v2h-6zM1730 880h6v2h-6zM1722 882h8v2h-8zM1716 884h6v2h-6zM1708 886h8v2h-8zM1698 888h10v2h-10zM882 890h100v2h-100zM1688 890h10v2h-10zM822 892h60v2h-60zM982 892h36v2h-36zM1678 892h10v2h-10zM802 894h20v2h-20zM1018 894h10v2h-10zM1502 894h40v2h-40zM1668 894h10v2h-10zM782 896h20v2h-20zM1028 896h14v2h-14zM1462 896h40v2h-40zM1542 896h20v2h-20zM1658 896h10v2h-10zM762 898h20v2h-20zM1042 898h20v2h-20zM1442 898h20v2h-20zM1562 898h20v2h-20zM1642 898h16v2h-16zM742 900h20v2h-20zM1062 900h20v2h-20zM1402 900h40v2h-40zM1582 900h60v2h-60zM722 902h20v2h-20zM1082 902h20v2h-20zM1322 902h80v2h-80zM702 904h20v2h-20zM1102 904h20v2h-20zM1302 904h20v2h-20zM682 906h20v2h-20zM1122 906h20v2h-20zM1282 906h20v2h-20zM662 908h20v2h-20zM1142 908h20v2h-20zM1262 908h20v2h-20zM642 910h20v2h-20zM1162 910h100v2h-100zM622 912h20v2h-20zM582 914h40v2h-40zM562 916h20v2h-20zM542 918h20v2h-20zM522 920h20v2h-20zM502 922h20v2h-20zM482 924h20v2h-20zM462 926h20v2h-20zM442 928h20v2h-20zM402 930h40v2h-40zM382 932h20v2h-20zM362 934h20v2h-20zM322 936h40v2h-40zM302 938h20v2h-20zM242 940h60v2h-60zM192 942h50v2h-50z" fill="#ecec1c"/>
<path d="M750 1000h6v2h-6zM808 1000h6v2h-6zM1450 1000h6v2h-6zM690 1002h6v2h-6zM746 1002h4v2h-4zM756 1002h6v2h-6zM798 1002h10v2h-10zM814 1002h2v2h-2zM1446 1002h4v2h-4zM1456 1002h6v2h-6zM1488 1002h8v2h-8zM1730 1002h6v2h-6zM682 1004h8v2h-8zM696 1004h4v2h-4zM740 1004h6v2h-6zM762 1004h8v2h-8zM782 1004h16v2h-16zM816 1004h2v2h-2zM1440 1004h6v2h-6zM1462 1004h8v2h-8zM1478 1004h10v2h-10zM1496 1004h4v2h-4zM1726 1004h4v2h-4zM1736 1004h4v2h-4zM676 1006h6v2h-6zM700 1006h6v2h-6zM736 1006h4v2h-4zM770 1006h12v2h-12zM818 1006h2v2h-2zM1288 1006h14v2h-14zM1436 1006h4v2h-4zM1470 1006h8v2h-8zM1500 1006h6v2h-6zM1692 1006h6v2h-6zM1720 1006h6v2h-6zM1740 1006h6v2h-6zM670 1008h6v2h-6zM706 1008h4v2h-4zM722 1008h14v2h-14zM818 1008h2v2h-2zM1278 1008h10v2h-10zM1302 1008h12v2h-12zM1430 1008h6v2h-6zM1506 1008h4v2h-4zM1688 1008h4v2h-4zM1698 1008h10v2h-10zM1716 1008h4v2h-4zM1746 1008h4v2h-4zM662 1010h8v2h-8zM710 1010h12v2h-12zM820 1010h2v2h-2zM948 1010h6v2h-6zM1270 1010h8v2h-8zM1314 1010h4v2h-4zM1422 1010h8v2h-8zM1510 1010h4v2h-4zM1684 1010h4v2h-4zM1708 1010h8v2h-8zM1750 1010h4v2h-4zM656 1012h6v2h-6zM822 1012h2v2h-2zM870 1012h12v2h-12zM902 1012h20v2h-20zM938 1012h10v2h-10zM954 1012h2v2h-2zM1262 1012h8v2h-8zM1318 1012h4v2h-4zM1416 1012h6v2h-6zM1514 1012h2v2h-2zM1630 1012h6v2h-6zM1682 1012h2v2h-2zM1754 1012h2v2h-2zM648 1014h8v2h-8zM824 1014h2v2h-2zM866 1014h4v2h-4zM882 1014h20v2h-20zM922 1014h16v2h-16zM956 1014h2v2h-2zM1256 1014h6v2h-6zM1322 1014h2v2h-2zM1410 1014h6v2h-6zM1514 1014h2v2h-2zM1626 1014h4v2h-4zM1636 1014h4v2h-4zM1678 1014h4v2h-4zM1756 1014h2v2h-2zM530 1016h4v2h-4zM638 1016h10v2h-10zM826 1016h2v2h-2zM860 1016h6v2h-6zM958 1016h2v2h-2zM1248 1016h8v2h-8zM1324 1016h4v2h-4zM1406 1016h4v2h-4zM1516 1016h2v2h-2zM1620 1016h6v2h-6zM1640 1016h6v2h-6zM1674 1016h4v2h-4zM1758 1016h2v2h-2zM522 1018h8v2h-8zM534 1018h2v2h-2zM610 1018h28v2h-28zM828 1018h2v2h-2zM856 1018h4v2h-4zM960 1018h2v2h-2zM1238 1018h10v2h-10zM1328 1018h4v2h-4zM1402 1018h4v2h-4zM1516 1018h2v2h-2zM1616 1018h4v2h-4zM1646 1018h4v2h-4zM1662 1018h12v2h-12zM1760 1018h2v2h-2zM488 1020h14v2h-14zM516 1020h6v2h-6zM536 1020h2v2h-2zM606 1020h4v2h-4zM828 1020h2v2h-2zM848 1020h8v2h-8zM962 1020h2v2h-2zM1212 1020h26v2h-26zM1332 1020h4v2h-4zM1398 1020h4v2h-4zM1518 1020h2v2h-2zM1612 1020h4v2h-4zM1650 1020h12v2h-12zM1762 1020h2v2h-2zM478 1022h10v2h-10zM502 1022h14v2h-14zM538 1022h2v2h-2zM602 1022h4v2h-4zM830 1022h2v2h-2zM838 1022h10v2h-10zM964 1022h2v2h-2zM1208 1022h4v2h-4zM1336 1022h6v2h-6zM1394 1022h4v2h-4zM1518 1022h2v2h-2zM1610 1022h2v2h-2zM1762 1022h2v2h-2zM472 1024h6v2h-6zM540 1024h2v2h-2zM598 1024h4v2h-4zM832 1024h6v2h-6zM966 1024h2v2h-2zM1206 1024h2v2h-2zM1342 1024h8v2h-8zM1362 1024h32v2h-32zM1520 1024h2v2h-2zM1606 1024h4v2h-4zM1764 1024h2v2h-2zM468 1026h4v2h-4zM542 1026h4v2h-4zM570 1026h12v2h-12zM594 1026h4v2h-4zM968 1026h2v2h-2zM1202 1026h4v2h-4zM1350 1026h12v2h-12zM1520 1026h2v2h-2zM1604 1026h2v2h-2zM1766 1026h2v2h-2zM1790 1026h2v2h-2zM464 1028h4v2h-4zM546 1028h2v2h-2zM566 1028h4v2h-4zM582 1028h12v2h-12zM970 1028h2v2h-2zM1200 1028h2v2h-2zM1522 1028h2v2h-2zM1602 1028h2v2h-2zM1768 1028h2v2h-2zM1782 1028h8v2h-8zM410 1030h6v2h-6zM462 1030h2v2h-2zM548 1030h2v2h-2zM560 1030h6v2h-6zM972 1030h22v2h-22zM1198 1030h2v2h-2zM1522 1030h2v2h-2zM1600 1030h2v2h-2zM1770 1030h2v2h-2zM1776 1030h6v2h-6zM402 1032h8v2h-8zM416 1032h6v2h-6zM458 1032h4v2h-4zM550 1032h2v2h-2zM556 1032h4v2h-4zM994 1032h2v2h-2zM1194 1032h4v2h-4zM1524 1032h2v2h-2zM1596 1032h4v2h-4zM1772 1032h4v2h-4zM396 1034h6v2h-6zM422 1034h8v2h-8zM454 1034h4v2h-4zM552 1034h4v2h-4zM996 1034h2v2h-2zM1190 1034h4v2h-4zM1524 1034h2v2h-2zM1594 1034h2v2h-2zM330 1036h4v2h-4zM390 1036h6v2h-6zM430 1036h24v2h-24zM998 1036h2v2h-2zM1070 1036h28v2h-28zM1182 1036h8v2h-8zM1526 1036h2v2h-2zM1592 1036h2v2h-2zM322 1038h8v2h-8zM334 1038h4v2h-4zM382 1038h8v2h-8zM1000 1038h2v2h-2zM1066 1038h4v2h-4zM1098 1038h10v2h-10zM1122 1038h12v2h-12zM1176 1038h6v2h-6zM1526 1038h2v2h-2zM1590 1038h2v2h-2zM316 1040h6v2h-6zM338 1040h4v2h-4zM376 1040h6v2h-6zM1002 1040h4v2h-4zM1060 1040h6v2h-6zM1108 1040h14v2h-14zM1134 1040h4v2h-4zM1170 1040h6v2h-6zM1528 1040h2v2h-2zM1588 1040h2v2h-2zM308 1042h8v2h-8zM342 1042h2v2h-2zM370 1042h6v2h-6zM1006 1042h2v2h-2zM1056 1042h4v2h-4zM1138 1042h4v2h-4zM1166 1042h4v2h-4zM1528 1042h2v2h-2zM1588 1042h2v2h-2zM298 1044h10v2h-10zM344 1044h4v2h-4zM362 1044h8v2h-8zM1008 1044h2v2h-2zM1050 1044h6v2h-6zM1142 1044h2v2h-2zM1162 1044h4v2h-4zM1530 1044h2v2h-2zM1586 1044h2v2h-2zM288 1046h10v2h-10zM348 1046h4v2h-4zM356 1046h6v2h-6zM1010 1046h2v2h-2zM1046 1046h4v2h-4zM1144 1046h4v2h-4zM1158 1046h4v2h-4zM1530 1046h2v2h-2zM1584 1046h2v2h-2zM212 1048h4v2h-4zM278 1048h10v2h-10zM352 1048h4v2h-4zM1012 1048h4v2h-4zM1042 1048h4v2h-4zM1148 1048h4v2h-4zM1154 1048h4v2h-4zM1532 1048h2v2h-2zM1582 1048h2v2h-2zM208 1050h4v2h-4zM216 1050h6v2h-6zM270 1050h8v2h-8zM1016 1050h6v2h-6zM1038 1050h4v2h-4zM1152 1050h2v2h-2zM1534 1050h4v2h-4zM1582 1050h2v2h-2zM204 1052h4v2h-4zM222 1052h8v2h-8zM262 1052h8v2h-8zM1022 1052h8v2h-8zM1034 1052h4v2h-4zM1538 1052h2v2h-2zM1580 1052h2v2h-2zM202 1054h2v2h-2zM230 1054h12v2h-12zM256 1054h6v2h-6zM1030 1054h4v2h-4zM1540 1054h2v2h-2zM1578 1054h2v2h-2zM198 1056h4v2h-4zM242 1056h14v2h-14zM1542 1056h4v2h-4zM1576 1056h2v2h-2zM194 1058h4v2h-4zM1546 1058h2v2h-2zM1576 1058h2v2h-2zM192 1060h2v2h-2zM1548 1060h4v2h-4zM1574 1060h2v2h-2zM1552 1062h22v2h-22z" fill="#e81ce8"/>
<path d="M1752 1112h4v2h-4zM1750 1114h2v2h-2zM1756 1114h6v2h-6zM1592 1116h2v2h-2zM1750 1116h2v2h-2zM1762 1116h8v2h-8zM1592 1118h4v2h-4zM1748 1118h2v2h-2zM1770 1118h4v2h-4zM1592 1120h2v2h-2zM1596 1120h2v2h-2zM1748 1120h2v2h-2zM1772 1120h2v2h-2zM1590 1122h2v2h-2zM1598 1122h2v2h-2zM1746 1122h2v2h-2zM1774 1122h2v2h-2zM1590 1124h2v2h-2zM1598 1124h2v2h-2zM1744 1124h2v2h-2zM1774 1124h2v2h-2zM1530 1126h4v2h-4zM1590 1126h2v2h-2zM1600 1126h2v2h-2zM1744 1126h2v2h-2zM1774 1126h2v2h-2zM1526 1128h4v2h-4zM1534 1128h2v2h-2zM1590 1128h2v2h-2zM1602 1128h2v2h-2zM1742 1128h2v2h-2zM1776 1128h2v2h-2zM1520 1130h6v2h-6zM1536 1130h2v2h-2zM1588 1130h2v2h-2zM1604 1130h2v2h-2zM1740 1130h2v2h-2zM1776 1130h2v2h-2zM1516 1132h4v2h-4zM1538 1132h2v2h-2zM1588 1132h2v2h-2zM1606 1132h2v2h-2zM1740 1132h2v2h-2zM1778 1132h2v2h-2zM1512 1134h4v2h-4zM1538 1134h2v2h-2zM1588 1134h2v2h-2zM1608 1134h2v2h-2zM1692 1134h2v2h-2zM1738 1134h2v2h-2zM1778 1134h2v2h-2zM1512 1136h2v2h-2zM1540 1136h2v2h-2zM1588 1136h2v2h-2zM1608 1136h2v2h-2zM1692 1136h2v2h-2zM1738 1136h2v2h-2zM1778 1136h2v2h-2zM1512 1138h2v2h-2zM1542 1138h2v2h-2zM1588 1138h2v2h-2zM1610 1138h2v2h-2zM1692 1138h4v2h-4zM1736 1138h2v2h-2zM1780 1138h2v2h-2zM1510 1140h2v2h-2zM1544 1140h2v2h-2zM1586 1140h2v2h-2zM1612 1140h2v2h-2zM1690 1140h2v2h-2zM1694 1140h2v2h-2zM1734 1140h2v2h-2zM1780 1140h2v2h-2zM1510 1142h2v2h-2zM1546 1142h2v2h-2zM1586 1142h2v2h-2zM1612 1142h2v2h-2zM1690 1142h2v2h-2zM1696 1142h2v2h-2zM1734 1142h2v2h-2zM1780 1142h2v2h-2zM1510 1144h2v2h-2zM1548 1144h2v2h-2zM1586 1144h2v2h-2zM1614 1144h2v2h-2zM1690 1144h2v2h-2zM1696 1144h2v2h-2zM1732 1144h2v2h-2zM1782 1144h2v2h-2zM1510 1146h2v2h-2zM1548 1146h2v2h-2zM1586 1146h2v2h-2zM1614 1146h2v2h-2zM1690 1146h2v2h-2zM1698 1146h2v2h-2zM1730 1146h2v2h-2zM1782 1146h2v2h-2zM1508 1148h2v2h-2zM1550 1148h2v2h-2zM1586 1148h2v2h-2zM1616 1148h2v2h-2zM1690 1148h2v2h-2zM1698 1148h2v2h-2zM1730 1148h2v2h-2zM1784 1148h2v2h-2zM1508 1150h2v2h-2zM1552 1150h2v2h-2zM1584 1150h2v2h-2zM1616 1150h2v2h-2zM1688 1150h2v2h-2zM1698 1150h2v2h-2zM1728 1150h2v2h-2zM1784 1150h2v2h-2zM1508 1152h2v2h-2zM1552 1152h2v2h-2zM1584 1152h2v2h-2zM1618 1152h2v2h-2zM1688 1152h2v2h-2zM1700 1152h2v2h-2zM1728 1152h2v2h-2zM1784 1152h2v2h-2zM1508 1154h2v2h-2zM1554 1154h2v2h-2zM1584 1154h2v2h-2zM1618 1154h2v2h-2zM1688 1154h2v2h-2zM1700 1154h2v2h-2zM1726 1154h2v2h-2zM1786 1154h2v2h-2zM1508 1156h2v2h-2zM1554 1156h2v2h-2zM1584 1156h2v2h-2zM1620 1156h2v2h-2zM1688 1156h2v2h-2zM1702 1156h2v2h-2zM1726 1156h2v2h-2zM1786 1156h2v2h-2zM1506 1158h2v2h-2zM1554 1158h2v2h-2zM1582 1158h2v2h-2zM1620 1158h2v2h-2zM1688 1158h2v2h-2zM1702 1158h2v2h-2zM1724 1158h2v2h-2zM1786 1158h2v2h-2zM1506 1160h2v2h-2zM1556 1160h2v2h-2zM1582 1160h2v2h-2zM1622 1160h2v2h-2zM1686 1160h2v2h-2zM1704 1160h2v2h-2zM1724 1160h2v2h-2zM1788 1160h2v2h-2zM1506 1162h2v2h-2zM1556 1162h2v2h-2zM1582 1162h2v2h-2zM1622 1162h2v2h-2zM1686 1162h2v2h-2zM1704 1162h2v2h-2zM1722 1162h2v2h-2zM1788 1162h2v2h-2zM1506 1164h2v2h-2zM1556 1164h2v2h-2zM1582 1164h2v2h-2zM1622 1164h2v2h-2zM1686 1164h2v2h-2zM1706 1164h2v2h-2zM1720 1164h2v2h-2zM1790 1164h2v2h-2zM1504 1166h2v2h-2zM1558 1166h2v2h-2zM1582 1166h2v2h-2zM1624 1166h2v2h-2zM1686 1166h2v2h-2zM1706 1166h2v2h-2zM1720 1166h2v2h-2zM1790 1166h2v2h-2zM1504 1168h2v2h-2zM1558 1168h2v2h-2zM1580 1168h2v2h-2zM1624 1168h2v2h-2zM1686 1168h2v2h-2zM1706 1168h2v2h-2zM1718 1168h2v2h-2zM1790 1168h2v2h-2zM1504 1170h2v2h-2zM1558 1170h2v2h-2zM1580 1170h2v2h-2zM1626 1170h2v2h-2zM1684 1170h2v2h-2zM1708 1170h2v2h-2zM1718 1170h2v2h-2zM1792 1170h2v2h-2zM1504 1172h2v2h-2zM1560 1172h2v2h-2zM1580 1172h2v2h-2zM1626 1172h2v2h-2zM1684 1172h2v2h-2zM1708 1172h2v2h-2zM1716 1172h2v2h-2zM1502 1174h2v2h-2zM1560 1174h2v2h-2zM1580 1174h2v2h-2zM1628 1174h2v2h-2zM1684 1174h2v2h-2zM1710 1174h2v2h-2zM1716 1174h2v2h-2zM1502 1176h2v2h-2zM1560 1176h2v2h-2zM1578 1176h2v2h-2zM1628 1176h2v2h-2zM1684 1176h2v2h-2zM1710 1176h2v2h-2zM1714 1176h2v2h-2zM1502 1178h2v2h-2zM1562 1178h2v2h-2zM1578 1178h2v2h-2zM1630 1178h2v2h-2zM1684 1178h2v2h-2zM1712 1178h4v2h-4zM1502 1180h2v2h-2zM1562 1180h2v2h-2zM1578 1180h2v2h-2zM1630 1180h2v2h-2zM1682 1180h2v2h-2zM1712 1180h2v2h-2zM1502 1182h2v2h-2zM1564 1182h2v2h-2zM1578 1182h2v2h-2zM1632 1182h2v2h-2zM1682 1182h2v2h-2zM1500 1184h2v2h-2zM1564 1184h2v2h-2zM1578 1184h2v2h-2zM1632 1184h2v2h-2zM1682 1184h2v2h-2zM1500 1186h2v2h-2zM1564 1186h2v2h-2zM1576 1186h2v2h-2zM1634 1186h2v2h-2zM1682 1186h2v2h-2zM972 1188h2v2h-2zM1500 1188h2v2h-2zM1566 1188h2v2h-2zM1576 1188h2v2h-2zM1636 1188h2v2h-2zM1682 1188h2v2h-2zM970 1190h2v2h-2zM974 1190h2v2h-2zM1500 1190h2v2h-2zM1566 1190h2v2h-2zM1576 1190h2v2h-2zM1638 1190h2v2h-2zM1682 1190h2v2h-2zM832 1192h2v2h-2zM970 1192h2v2h-2zM974 1192h2v2h-2zM1498 1192h2v2h-2zM1566 1192h2v2h-2zM1576 1192h2v2h-2zM1640 1192h2v2h-2zM1680 1192h2v2h-2zM768 1194h6v2h-6zM830 1194h2v2h-2zM834 1194h2v2h-2zM968 1194h2v2h-2zM976 1194h2v2h-2zM1498 1194h2v2h-2zM1568 1194h2v2h-2zM1576 1194h2v2h-2zM1642 1194h2v2h-2zM1680 1194h2v2h-2zM652 1196h2v2h-2zM758 1196h10v2h-10zM774 1196h2v2h-2zM830 1196h2v2h-2zM834 1196h2v2h-2zM968 1196h2v2h-2zM978 1196h2v2h-2zM1498 1196h2v2h-2zM1568 1196h2v2h-2zM1574 1196h2v2h-2zM1644 1196h2v2h-2zM1680 1196h2v2h-2zM650 1198h2v2h-2zM654 1198h2v2h-2zM752 1198h6v2h-6zM776 1198h4v2h-4zM828 1198h2v2h-2zM836 1198h2v2h-2zM966 1198h2v2h-2zM978 1198h2v2h-2zM1498 1198h2v2h-2zM1568 1198h2v2h-2zM1574 1198h2v2h-2zM1646 1198h2v2h-2zM1680 1198h2v2h-2zM650 1200h2v2h-2zM656 1200h2v2h-2zM750 1200h2v2h-2zM780 1200h2v2h-2zM828 1200h2v2h-2zM836 1200h2v2h-2zM966 1200h2v2h-2zM980 1200h2v2h-2zM1212 1200h2v2h-2zM1498 1200h2v2h-2zM1570 1200h2v2h-2zM1574 1200h2v2h-2zM1648 1200h2v2h-2zM1680 1200h2v2h-2zM648 1202h2v2h-2zM658 1202h2v2h-2zM748 1202h2v2h-2zM782 1202h2v2h-2zM826 1202h2v2h-2zM838 1202h2v2h-2zM964 1202h2v2h-2zM982 1202h2v2h-2zM1210 1202h2v2h-2zM1214 1202h2v2h-2zM1496 1202h2v2h-2zM1570 1202h2v2h-2zM1574 1202h2v2h-2zM1650 1202h2v2h-2zM1678 1202h2v2h-2zM648 1204h2v2h-2zM658 1204h2v2h-2zM748 1204h2v2h-2zM784 1204h2v2h-2zM826 1204h2v2h-2zM838 1204h2v2h-2zM964 1204h2v2h-2zM982 1204h2v2h-2zM1012 1204h22v2h-22zM1208 1204h2v2h-2zM1214 1204h2v2h-2zM1496 1204h2v2h-2zM1570 1204h4v2h-4zM1652 1204h2v2h-2zM1678 1204h2v2h-2zM646 1206h2v2h-2zM660 1206h2v2h-2zM746 1206h2v2h-2zM786 1206h4v2h-4zM824 1206h2v2h-2zM840 1206h2v2h-2zM962 1206h2v2h-2zM984 1206h2v2h-2zM1008 1206h4v2h-4zM1034 1206h2v2h-2zM1208 1206h2v2h-2zM1216 1206h2v2h-2zM1452 1206h10v2h-10zM1496 1206h2v2h-2zM1572 1206h2v2h-2zM1654 1206h2v2h-2zM1678 1206h2v2h-2zM646 1208h2v2h-2zM662 1208h2v2h-2zM744 1208h2v2h-2zM790 1208h2v2h-2zM824 1208h2v2h-2zM840 1208h2v2h-2zM960 1208h2v2h-2zM986 1208h2v2h-2zM1006 1208h2v2h-2zM1036 1208h2v2h-2zM1206 1208h2v2h-2zM1216 1208h2v2h-2zM1332 1208h2v2h-2zM1450 1208h2v2h-2zM1462 1208h12v2h-12zM1496 1208h2v2h-2zM1572 1208h2v2h-2zM1654 1208h2v2h-2zM1678 1208h2v2h-2zM644 1210h2v2h-2zM664 1210h2v2h-2zM742 1210h2v2h-2zM792 1210h2v2h-2zM822 1210h2v2h-2zM842 1210h2v2h-2zM960 1210h2v2h-2zM986 1210h2v2h-2zM1002 1210h4v2h-4zM1038 1210h2v2h-2zM1204 1210h2v2h-2zM1218 1210h2v2h-2zM1330 1210h2v2h-2zM1334 1210h2v2h-2zM1448 1210h2v2h-2zM1474 1210h4v2h-4zM1494 1210h2v2h-2zM1656 1210h2v2h-2zM1678 1210h2v2h-2zM644 1212h2v2h-2zM666 1212h2v2h-2zM740 1212h2v2h-2zM794 1212h2v2h-2zM822 1212h2v2h-2zM842 1212h2v2h-2zM872 1212h2v2h-2zM958 1212h2v2h-2zM988 1212h2v2h-2zM1000 1212h2v2h-2zM1040 1212h2v2h-2zM1070 1212h4v2h-4zM1202 1212h2v2h-2zM1220 1212h2v2h-2zM1328 1212h2v2h-2zM1336 1212h2v2h-2zM1446 1212h2v2h-2zM1478 1212h2v2h-2zM1494 1212h2v2h-2zM1658 1212h2v2h-2zM1676 1212h2v2h-2zM472 1214h2v2h-2zM642 1214h2v2h-2zM668 1214h2v2h-2zM690 1214h8v2h-8zM738 1214h2v2h-2zM796 1214h2v2h-2zM820 1214h2v2h-2zM844 1214h2v2h-2zM870 1214h2v2h-2zM874 1214h2v2h-2zM958 1214h2v2h-2zM990 1214h2v2h-2zM998 1214h2v2h-2zM1042 1214h4v2h-4zM1066 1214h4v2h-4zM1074 1214h4v2h-4zM1200 1214h2v2h-2zM1220 1214h2v2h-2zM1326 1214h2v2h-2zM1338 1214h2v2h-2zM1444 1214h2v2h-2zM1480 1214h2v2h-2zM1494 1214h2v2h-2zM1658 1214h2v2h-2zM1676 1214h2v2h-2zM470 1216h2v2h-2zM474 1216h2v2h-2zM550 1216h4v2h-4zM642 1216h2v2h-2zM668 1216h2v2h-2zM682 1216h8v2h-8zM698 1216h10v2h-10zM738 1216h2v2h-2zM798 1216h2v2h-2zM820 1216h2v2h-2zM844 1216h2v2h-2zM868 1216h2v2h-2zM876 1216h2v2h-2zM956 1216h2v2h-2zM990 1216h2v2h-2zM994 1216h4v2h-4zM1046 1216h2v2h-2zM1062 1216h4v2h-4zM1078 1216h4v2h-4zM1198 1216h2v2h-2zM1222 1216h2v2h-2zM1324 1216h2v2h-2zM1340 1216h2v2h-2zM1412 1216h2v2h-2zM1442 1216h2v2h-2zM1482 1216h4v2h-4zM1494 1216h2v2h-2zM1660 1216h2v2h-2zM1676 1216h2v2h-2zM468 1218h2v2h-2zM476 1218h2v2h-2zM546 1218h4v2h-4zM554 1218h4v2h-4zM612 1218h2v2h-2zM640 1218h2v2h-2zM670 1218h2v2h-2zM676 1218h6v2h-6zM708 1218h10v2h-10zM736 1218h2v2h-2zM800 1218h2v2h-2zM818 1218h2v2h-2zM846 1218h2v2h-2zM866 1218h2v2h-2zM878 1218h2v2h-2zM956 1218h2v2h-2zM992 1218h2v2h-2zM1048 1218h2v2h-2zM1058 1218h4v2h-4zM1082 1218h2v2h-2zM1162 1218h14v2h-14zM1198 1218h2v2h-2zM1222 1218h2v2h-2zM1322 1218h2v2h-2zM1342 1218h2v2h-2zM1410 1218h2v2h-2zM1414 1218h4v2h-4zM1440 1218h2v2h-2zM1486 1218h2v2h-2zM1492 1218h2v2h-2zM1660 1218h2v2h-2zM1676 1218h2v2h-2zM212 1220h2v2h-2zM466 1220h2v2h-2zM476 1220h2v2h-2zM540 1220h6v2h-6zM558 1220h2v2h-2zM610 1220h2v2h-2zM614 1220h2v2h-2zM640 1220h2v2h-2zM672 1220h4v2h-4zM718 1220h10v2h-10zM734 1220h2v2h-2zM802 1220h2v2h-2zM818 1220h2v2h-2zM846 1220h2v2h-2zM864 1220h2v2h-2zM880 1220h2v2h-2zM954 1220h2v2h-2zM1050 1220h2v2h-2zM1054 1220h4v2h-4zM1084 1220h4v2h-4zM1150 1220h12v2h-12zM1176 1220h6v2h-6zM1196 1220h2v2h-2zM1224 1220h2v2h-2zM1272 1220h2v2h-2zM1320 1220h2v2h-2zM1344 1220h2v2h-2zM1408 1220h2v2h-2zM1418 1220h4v2h-4zM1438 1220h2v2h-2zM1488 1220h6v2h-6zM1662 1220h2v2h-2zM1676 1220h2v2h-2zM210 1222h2v2h-2zM214 1222h4v2h-4zM342 1222h12v2h-12zM464 1222h2v2h-2zM478 1222h2v2h-2zM536 1222h4v2h-4zM560 1222h2v2h-2zM608 1222h2v2h-2zM616 1222h4v2h-4zM638 1222h2v2h-2zM728 1222h6v2h-6zM804 1222h2v2h-2zM816 1222h2v2h-2zM848 1222h2v2h-2zM862 1222h2v2h-2zM882 1222h2v2h-2zM954 1222h2v2h-2zM1052 1222h2v2h-2zM1088 1222h4v2h-4zM1142 1222h8v2h-8zM1182 1222h8v2h-8zM1194 1222h2v2h-2zM1224 1222h2v2h-2zM1270 1222h2v2h-2zM1274 1222h4v2h-4zM1318 1222h2v2h-2zM1346 1222h2v2h-2zM1408 1222h2v2h-2zM1422 1222h4v2h-4zM1436 1222h2v2h-2zM1492 1222h2v2h-2zM1664 1222h2v2h-2zM1674 1222h2v2h-2zM206 1224h4v2h-4zM218 1224h4v2h-4zM250 1224h8v2h-8zM332 1224h10v2h-10zM354 1224h2v2h-2zM410 1224h4v2h-4zM462 1224h2v2h-2zM480 1224h2v2h-2zM532 1224h4v2h-4zM562 1224h4v2h-4zM606 1224h2v2h-2zM620 1224h2v2h-2zM638 1224h2v2h-2zM806 1224h2v2h-2zM816 1224h2v2h-2zM848 1224h2v2h-2zM860 1224h2v2h-2zM884 1224h2v2h-2zM942 1224h12v2h-12zM1092 1224h30v2h-30zM1136 1224h6v2h-6zM1190 1224h4v2h-4zM1226 1224h2v2h-2zM1268 1224h2v2h-2zM1278 1224h4v2h-4zM1316 1224h2v2h-2zM1348 1224h2v2h-2zM1406 1224h2v2h-2zM1426 1224h4v2h-4zM1434 1224h2v2h-2zM1664 1224h2v2h-2zM1674 1224h2v2h-2zM204 1226h2v2h-2zM222 1226h2v2h-2zM246 1226h4v2h-4zM258 1226h10v2h-10zM328 1226h4v2h-4zM356 1226h2v2h-2zM406 1226h4v2h-4zM414 1226h2v2h-2zM462 1226h2v2h-2zM482 1226h2v2h-2zM528 1226h4v2h-4zM566 1226h2v2h-2zM604 1226h2v2h-2zM622 1226h2v2h-2zM636 1226h2v2h-2zM808 1226h2v2h-2zM814 1226h2v2h-2zM850 1226h2v2h-2zM858 1226h2v2h-2zM886 1226h2v2h-2zM922 1226h20v2h-20zM1122 1226h14v2h-14zM1228 1226h2v2h-2zM1266 1226h2v2h-2zM1282 1226h4v2h-4zM1314 1226h2v2h-2zM1350 1226h2v2h-2zM1404 1226h2v2h-2zM1430 1226h4v2h-4zM1666 1226h2v2h-2zM1674 1226h2v2h-2zM202 1228h2v2h-2zM224 1228h4v2h-4zM240 1228h6v2h-6zM268 1228h8v2h-8zM326 1228h2v2h-2zM358 1228h2v2h-2zM400 1228h6v2h-6zM416 1228h4v2h-4zM460 1228h2v2h-2zM482 1228h2v2h-2zM524 1228h4v2h-4zM568 1228h4v2h-4zM602 1228h2v2h-2zM624 1228h2v2h-2zM636 1228h2v2h-2zM810 1228h2v2h-2zM814 1228h2v2h-2zM850 1228h2v2h-2zM856 1228h2v2h-2zM888 1228h2v2h-2zM908 1228h14v2h-14zM1228 1228h2v2h-2zM1264 1228h2v2h-2zM1286 1228h4v2h-4zM1302 1228h12v2h-12zM1352 1228h6v2h-6zM1402 1228h2v2h-2zM1668 1228h2v2h-2zM1674 1228h2v2h-2zM200 1230h2v2h-2zM228 1230h4v2h-4zM236 1230h4v2h-4zM276 1230h4v2h-4zM322 1230h4v2h-4zM360 1230h2v2h-2zM396 1230h4v2h-4zM420 1230h2v2h-2zM458 1230h2v2h-2zM484 1230h2v2h-2zM522 1230h2v2h-2zM572 1230h2v2h-2zM602 1230h2v2h-2zM626 1230h4v2h-4zM634 1230h2v2h-2zM812 1230h2v2h-2zM852 1230h4v2h-4zM890 1230h2v2h-2zM898 1230h10v2h-10zM1230 1230h2v2h-2zM1262 1230h2v2h-2zM1290 1230h12v2h-12zM1358 1230h10v2h-10zM1400 1230h2v2h-2zM1668 1230h2v2h-2zM1674 1230h2v2h-2zM196 1232h4v2h-4zM232 1232h4v2h-4zM280 1232h6v2h-6zM320 1232h2v2h-2zM362 1232h4v2h-4zM390 1232h6v2h-6zM422 1232h2v2h-2zM456 1232h2v2h-2zM486 1232h2v2h-2zM518 1232h4v2h-4zM574 1232h4v2h-4zM600 1232h2v2h-2zM630 1232h2v2h-2zM634 1232h2v2h-2zM852 1232h2v2h-2zM892 1232h6v2h-6zM1230 1232h2v2h-2zM1260 1232h2v2h-2zM1368 1232h8v2h-8zM1398 1232h2v2h-2zM1670 1232h4v2h-4zM194 1234h2v2h-2zM286 1234h4v2h-4zM318 1234h2v2h-2zM366 1234h2v2h-2zM386 1234h4v2h-4zM424 1234h2v2h-2zM454 1234h2v2h-2zM488 1234h2v2h-2zM514 1234h4v2h-4zM578 1234h4v2h-4zM598 1234h2v2h-2zM632 1234h2v2h-2zM1232 1234h4v2h-4zM1258 1234h2v2h-2zM1376 1234h4v2h-4zM1398 1234h2v2h-2zM1670 1234h4v2h-4zM192 1236h2v2h-2zM290 1236h12v2h-12zM314 1236h4v2h-4zM368 1236h2v2h-2zM380 1236h6v2h-6zM426 1236h4v2h-4zM448 1236h6v2h-6zM488 1236h2v2h-2zM508 1236h6v2h-6zM582 1236h4v2h-4zM596 1236h2v2h-2zM1236 1236h6v2h-6zM1256 1236h2v2h-2zM1380 1236h6v2h-6zM1396 1236h2v2h-2zM1672 1236h2v2h-2zM302 1238h12v2h-12zM370 1238h2v2h-2zM376 1238h4v2h-4zM430 1238h2v2h-2zM438 1238h10v2h-10zM490 1238h2v2h-2zM498 1238h10v2h-10zM586 1238h4v2h-4zM594 1238h2v2h-2zM1242 1238h8v2h-8zM1254 1238h2v2h-2zM1386 1238h4v2h-4zM1394 1238h2v2h-2zM372 1240h4v2h-4zM432 1240h6v2h-6zM492 1240h6v2h-6zM590 1240h4v2h-4zM1250 1240h4v2h-4zM1390 1240h4v2h-4z" fill="#ffffff"/>
<path d="M1770 1156h8v2h-8zM1762 1158h8v2h-8zM1778 1158h10v2h-10zM1756 1160h6v2h-6zM1788 1160h4v2h-4zM1750 1162h6v2h-6zM1742 1164h8v2h-8zM1736 1166h6v2h-6zM1730 1168h6v2h-6zM1722 1170h8v2h-8zM1716 1172h6v2h-6zM1708 1174h8v2h-8zM1698 1176h10v2h-10zM1690 1178h8v2h-8zM1682 1180h8v2h-8zM1676 1182h6v2h-6zM1642 1184h34v2h-34zM1628 1186h14v2h-14zM1618 1188h10v2h-10zM1608 1190h10v2h-10zM1598 1192h10v2h-10zM1590 1194h8v2h-8zM1586 1196h4v2h-4zM1580 1198h6v2h-6zM1576 1200h4v2h-4zM1562 1202h14v2h-14zM1548 1204h14v2h-14zM1538 1206h10v2h-10zM1530 1208h8v2h-8zM1526 1210h4v2h-4zM1520 1212h6v2h-6zM862 1214h20v2h-20zM902 1214h20v2h-20zM1002 1214h40v2h-40zM1202 1214h20v2h-20zM1516 1214h4v2h-4zM822 1216h40v2h-40zM882 1216h20v2h-20zM922 1216h20v2h-20zM962 1216h40v2h-40zM1042 1216h60v2h-60zM1162 1216h40v2h-40zM1222 1216h20v2h-20zM1510 1216h6v2h-6zM782 1218h40v2h-40zM942 1218h20v2h-20zM1102 1218h60v2h-60zM1242 1218h40v2h-40zM1506 1218h4v2h-4zM762 1220h20v2h-20zM1282 1220h20v2h-20zM1500 1220h6v2h-6zM742 1222h20v2h-20zM1302 1222h60v2h-60zM1462 1222h20v2h-20zM1496 1222h4v2h-4zM192 1224h30v2h-30zM702 1224h40v2h-40zM1362 1224h100v2h-100zM1482 1224h14v2h-14zM222 1226h20v2h-20zM262 1226h36v2h-36zM662 1226h40v2h-40zM242 1228h20v2h-20zM298 1228h10v2h-10zM642 1228h20v2h-20zM308 1230h34v2h-34zM382 1230h60v2h-60zM462 1230h20v2h-20zM542 1230h100v2h-100zM342 1232h40v2h-40zM442 1232h20v2h-20zM482 1232h60v2h-60z" fill="#ecec1c"/>
<text x="174" y="50" font-size="25" fill="#eef3fb" text-anchor="end">3608.29</text>
<text x="1918" y="50" font-size="25" fill="#eef3fb">3608.29</text>
<text x="174" y="158" font-size="25" fill="#eef3fb" text-anchor="end">3446.97</text>
<text x="1918" y="158" font-size="25" fill="#eef3fb">3446.97</text>
<text x="174" y="268" font-size="25" fill="#eef3fb" text-anchor="end">3285.65</text>
<text x="1918" y="268" font-size="25" fill="#eef3fb">3285.65</text>
<text x="174" y="378" font-size="25" fill="#eef3fb" text-anchor="end">3124.33</text>
<text x="1918" y="378" font-size="25" fill="#eef3fb">3124.33</text>
<text x="174" y="488" font-size="25" fill="#eef3fb" text-anchor="end">2963.01</text>
<text x="1918" y="488" font-size="25" fill="#eef3fb">2963.01</text>
<text x="174" y="598" font-size="25" fill="#eef3fb" text-anchor="end">2801.69</text>
<text x="1918" y="598" font-size="25" fill="#eef3fb">2801.69</text>
<text x="174" y="708" font-size="25" fill="#eef3fb" text-anchor="end">2640.37</text>
<text x="1918" y="708" font-size="25" fill="#eef3fb">2640.37</text>
<text x="174" y="860" font-size="25" fill="#eef3fb" text-anchor="end">99.97</text>
<text x="1918" y="860" font-size="25" fill="#eef3fb">99.97</text>
<text x="174" y="912" font-size="25" fill="#eef3fb" text-anchor="end">36.54</text>
<text x="1918" y="912" font-size="25" fill="#eef3fb">36.54</text>
<text x="174" y="1006" font-size="25" fill="#eef3fb" text-anchor="end">78.38</text>
<text x="1918" y="1006" font-size="25" fill="#eef3fb">78.38</text>
<text x="174" y="1118" font-size="25" fill="#eef3fb" text-anchor="end">133.13</text>
<text x="1918" y="1118" font-size="25" fill="#eef3fb">133.13</text>
<text x="174" y="1184" font-size="25" fill="#eef3fb" text-anchor="end">75.64</text>
<text x="1918" y="1184" font-size="25" fill="#eef3fb">75.64</text>
<text x="1911" y="157" font-size="25" fill="#ffff00" text-anchor="end">3430.00</text>
<text x="1911" y="293" font-size="25" fill="#ffff00" text-anchor="end">3230.00</text>
<text x="1763" y="110" font-size="25" fill="#e8505f">3499.83</text>
<rect x="2032" y="210" width="16" height="16" fill="#0a0a0a"/>
<path d="M2040 211 L2047 218 L2033 218 Z M2040 218 L2048 226 L2032 226 Z" fill="#f5a233" shape-rendering="auto"/>
<rect x="1913" y="227" width="136" height="34" fill="#000000" stroke="#f5a233" stroke-width="2"/>
<text x="1919" y="252" font-size="25" fill="#f5a233">3339.39</text>
<text x="184" y="28" font-size="24" fill="#f4f4f4" textLength="96" lengthAdjust="spacingAndGlyphs" font-family="Liberation Sans, Noto Sans CJK SC, sans-serif">现货黄金</text>
<text x="277" y="29" font-size="24" fill="#ff7f0e" font-family="Liberation Sans, Noto Sans CJK SC, sans-serif">【</text>
<text x="306" y="29" font-size="24" fill="#ff7f0e" textLength="47" lengthAdjust="spacingAndGlyphs" font-family="Liberation Sans, Noto Sans CJK SC, sans-serif">日线</text>
<text x="356" y="29" font-size="24" fill="#ff7f0e" font-family="Liberation Sans, Noto Sans CJK SC, sans-serif">】</text>
<g stroke="#ff7f0e" stroke-width="2" fill="none" shape-rendering="auto"><circle cx="387" cy="23" r="8"/><path d="M379 23H395M387 15V31"/></g>
<rect x="414" y="6" width="22" height="24" fill="#9a9a9a"/>
<rect x="411" y="3" width="22" height="24" fill="#ffffff" stroke="#00008b" stroke-width="2"/>
<polyline points="413,17 415,15 418,13 420,9 423,13 425,15 427,13 430,11 432,11" fill="none" stroke="#ff0000" stroke-width="2"/>
<polyline points="413,23 415,21 418,19 420,15 423,19 425,21 427,19 430,17 432,17" fill="none" stroke="#0000ff" stroke-width="2"/>
<text x="441" y="28" font-size="25" fill="#eef3fb" textLength="396" lengthAdjust="spacingAndGlyphs">MA(55,14,200,0,0,0) MA55:3027.83</text>
<text x="855" y="28" font-size="25" fill="#d4d424" textLength="162" lengthAdjust="spacingAndGlyphs">MA14:3217.09</text>
<text x="1035" y="28" font-size="25" fill="#e020e0" textLength="176" lengthAdjust="spacingAndGlyphs">MA200:2725.00</text>
<text x="1229" y="28" font-size="25" fill="#28c828" textLength="148" lengthAdjust="spacingAndGlyphs">MA0:3339.39</text>
<text x="1395" y="28" font-size="25" fill="#8a8a8a" textLength="148" lengthAdjust="spacingAndGlyphs">MA0:3339.39</text>
<text x="1562" y="28" font-size="25" fill="#f03434" textLength="71" lengthAdjust="spacingAndGlyphs">MA0:3</text>
<rect x="1784" y="0" width="128" height="32" fill="#050505"/>
<rect x="1787" y="3" width="26" height="26" fill="none" stroke="#b4b4b4" stroke-width="2"/>
<rect x="1819" y="3" width="26" height="26" fill="none" stroke="#b4b4b4" stroke-width="2"/>
<rect x="1851" y="3" width="26" height="26" fill="none" stroke="#1b86d8" stroke-width="2"/>
<rect x="1883" y="3" width="26" height="26" fill="none" stroke="#b4b4b4" stroke-width="2"/>
<rect x="1798" y="6" width="4" height="6" fill="#b4b4b4"/>
<rect x="1798" y="20" width="4" height="6" fill="#b4b4b4"/>
<rect x="1790" y="14" width="6" height="4" fill="#b4b4b4"/>
<rect x="1804" y="14" width="6" height="4" fill="#b4b4b4"/>
<rect x="1798" y="14" width="4" height="4" fill="#b4b4b4"/>
<rect x="1824" y="6" width="2" height="20" fill="#b4b4b4"/>
<rect x="1822" y="22" width="20" height="2" fill="#b4b4b4"/>
<rect x="1822" y="8" width="6" height="2" fill="#b4b4b4"/>
<rect x="1838" y="20" width="2" height="6" fill="#b4b4b4"/>
<rect x="1830" y="8" width="2" height="12" fill="#b4b4b4"/>
<path d="M1833 14 L1838 9 V19 Z" fill="#b4b4b4"/>
<rect x="1856" y="6" width="2" height="20" fill="#1b86d8"/>
<rect x="1854" y="22" width="20" height="2" fill="#1b86d8"/>
<rect x="1854" y="8" width="6" height="2" fill="#1b86d8"/>
<rect x="1870" y="20" width="2" height="6" fill="#1b86d8"/>
<path d="M1862 8 L1872 15 L1862 22 Z" fill="#1b86d8"/>
<rect x="1887" y="7" width="6" height="18" fill="none" stroke="#b4b4b4" stroke-width="2"/>
<rect x="1890" y="14" width="10" height="3" fill="#b4b4b4"/>
<path d="M1898 10.5 L1904.5 15.5 L1898 20.5 Z" fill="#b4b4b4"/>
<text x="185" y="838" font-size="25" fill="#eef3fb" textLength="296" lengthAdjust="spacingAndGlyphs">MACD(26,12,9) DIFF:95.45</text>
<text x="499" y="838" font-size="25" fill="#d4d424" textLength="114" lengthAdjust="spacingAndGlyphs">DEA:81.27</text>
<text x="631" y="838" font-size="25" fill="#e020e0" textLength="141" lengthAdjust="spacingAndGlyphs">MACD:28.34</text>
<text x="185" y="984" font-size="25" fill="#eef3fb" textLength="277" lengthAdjust="spacingAndGlyphs">RSI(14,14,14) RSI1:64.37</text>
<text x="479" y="984" font-size="25" fill="#d4d424" textLength="118" lengthAdjust="spacingAndGlyphs">RSI2:64.37</text>
<text x="614" y="984" font-size="25" fill="#e020e0" textLength="119" lengthAdjust="spacingAndGlyphs">RSI3:64.37</text>
<text x="184" y="1096" font-size="25" fill="#eef3fb" textLength="194" lengthAdjust="spacingAndGlyphs">ATR(14) TR:79.11</text>
<text x="397" y="1096" font-size="25" fill="#d4d424" textLength="112" lengthAdjust="spacingAndGlyphs">ATR:91.17</text>
<g shape-rendering="auto"><circle cx="58" cy="1082" r="8" fill="#000"/><circle cx="58" cy="1082" r="6" fill="#fff"/><circle cx="58" cy="1082" r="4" fill="#ff0000"/><g stroke="#ff0000" stroke-width="2"><path d="M58 1068v4M58 1092v4M44 1082h4M68 1082h4M47 1071l3 3M69 1071l-3 3M47 1093l3 -3M69 1093l-3 -3"/></g></g>
<text x="216" y="1268" font-size="24" fill="#f4f7fd" textLength="88" lengthAdjust="spacingAndGlyphs" font-weight="bold">2025/01</text>
<text x="657" y="1268" font-size="24" fill="#f4f7fd" textLength="88" lengthAdjust="spacingAndGlyphs" font-weight="bold">2025/02</text>
<text x="1057" y="1268" font-size="24" fill="#f4f7fd" textLength="88" lengthAdjust="spacingAndGlyphs" font-weight="bold">2025/03</text>
<text x="1477" y="1268" font-size="24" fill="#f4f7fd" textLength="88" lengthAdjust="spacingAndGlyphs" font-weight="bold">2025/04</text>
<text x="67" y="1275" font-size="25" fill="#ff6a00" textLength="52" lengthAdjust="spacingAndGlyphs" font-weight="bold" font-family="Liberation Sans, Noto Sans CJK SC, sans-serif">日线</text>
<path d="M138 1256 L147 1272 L129 1272 Z" fill="#ff6a00" shape-rendering="auto"/>
<rect x="40" y="1284" width="78" height="30" fill="#090909"/>
<text x="79.0" y="1308" font-size="24" fill="#ffffff" text-anchor="middle" textLength="48" lengthAdjust="spacingAndGlyphs" font-family="Liberation Serif, Noto Serif CJK SC, serif">指标</text>
<rect x="120" y="1284" width="78" height="30" fill="#090909"/>
<text x="159.0" y="1308" font-size="24" fill="#ffffff" text-anchor="middle" textLength="48" lengthAdjust="spacingAndGlyphs" font-family="Liberation Serif, Noto Serif CJK SC, serif">模板</text>
<rect x="200" y="1282" width="114" height="30" fill="#ff6a00"/>
<rect x="200" y="1312" width="114" height="2" fill="#090909"/>
<text x="257.0" y="1308" font-size="24" fill="#ffffff" text-anchor="middle" textLength="84" lengthAdjust="spacingAndGlyphs" font-family="Liberation Serif, Noto Serif CJK SC, serif">VIP指标</text>
<rect x="316" y="1284" width="150" height="30" fill="#090909"/>
<text x="391.0" y="1305" font-size="19" fill="#c2c2c2" text-anchor="middle" textLength="119" lengthAdjust="spacingAndGlyphs" font-family="DejaVu Serif, Liberation Serif, serif">BARUPDN_UD</text>
<rect x="468" y="1284" width="114" height="30" fill="#090909"/>
<text x="525.0" y="1305" font-size="19" fill="#c2c2c2" text-anchor="middle" textLength="83" lengthAdjust="spacingAndGlyphs" font-family="DejaVu Serif, Liberation Serif, serif">BIAS_UD</text>
<rect x="584" y="1284" width="114" height="30" fill="#090909"/>
<text x="641.0" y="1305" font-size="19" fill="#c2c2c2" text-anchor="middle" textLength="83" lengthAdjust="spacingAndGlyphs" font-family="DejaVu Serif, Liberation Serif, serif">BOLL_UD</text>
<rect x="700" y="1284" width="102" height="30" fill="#090909"/>
<text x="751.0" y="1305" font-size="19" fill="#c2c2c2" text-anchor="middle" textLength="71" lengthAdjust="spacingAndGlyphs" font-family="DejaVu Serif, Liberation Serif, serif">CCI_UD</text>
<rect x="804" y="1284" width="102" height="30" fill="#090909"/>
<text x="855.0" y="1305" font-size="19" fill="#c2c2c2" text-anchor="middle" textLength="71" lengthAdjust="spacingAndGlyphs" font-family="DejaVu Serif, Liberation Serif, serif">DMI_UD</text>
<rect x="908" y="1284" width="138" height="30" fill="#090909"/>
<text x="977.0" y="1305" font-size="19" fill="#c2c2c2" text-anchor="middle" textLength="107" lengthAdjust="spacingAndGlyphs" font-family="DejaVu Serif, Liberation Serif, serif">INSIDE_UD</text>
<rect x="1048" y="1284" width="76" height="30" fill="#090909"/>
<rect x="1124" y="1290" width="14" height="24" fill="#090909"/>
<text x="1093.0" y="1305" font-size="19" fill="#c2c2c2" text-anchor="middle" textLength="59" lengthAdjust="spacingAndGlyphs" font-family="DejaVu Serif, Liberation Serif, serif">KD_UD</text>
<rect x="1140" y="1290" width="103" height="24" fill="#090909"/>
<text x="1191.5" y="1305" font-size="19" fill="#c2c2c2" text-anchor="middle" textLength="71" lengthAdjust="spacingAndGlyphs" font-family="DejaVu Serif, Liberation Serif, serif">KDJ_UD</text>
<rect x="1245" y="1290" width="89" height="24" fill="#090909"/>
<text x="1289.5" y="1305" font-size="19" fill="#c2c2c2" text-anchor="middle" textLength="59" lengthAdjust="spacingAndGlyphs" font-family="DejaVu Serif, Liberation Serif, serif">MA_UD</text>
<rect x="1336" y="1290" width="115" height="24" fill="#090909"/>
<text x="1393.5" y="1305" font-size="19" fill="#c2c2c2" text-anchor="middle" textLength="83" lengthAdjust="spacingAndGlyphs" font-family="DejaVu Serif, Liberation Serif, serif">MACD_UD</text>
<rect x="1453" y="1290" width="101" height="24" fill="#090909"/>
<text x="1503.5" y="1305" font-size="19" fill="#c2c2c2" text-anchor="middle" textLength="71" lengthAdjust="spacingAndGlyphs" font-family="DejaVu Serif, Liberation Serif, serif">MTM_UD</text>
<rect x="1556" y="1290" width="151" height="24" fill="#090909"/>
<text x="1631.5" y="1305" font-size="19" fill="#c2c2c2" text-anchor="middle" textLength="119" lengthAdjust="spacingAndGlyphs" font-family="DejaVu Serif, Liberation Serif, serif">OUTSIDE_UD</text>
<rect x="1709" y="1290" width="53" height="24" fill="#090909"/>
<text x="1735.5" y="1305" font-size="19" fill="#c2c2c2" text-anchor="middle" textLength="23" lengthAdjust="spacingAndGlyphs" font-family="DejaVu Serif, Liberation Serif, serif">&gt;&gt;</text>
<rect x="1170" y="1288" width="5" height="2" fill="#d9dde6"/>
<rect x="1182" y="1288" width="8" height="2" fill="#d9dde6"/>
<rect x="1201" y="1288" width="8" height="2" fill="#d9dde6"/>
<rect x="1215" y="1288" width="8" height="2" fill="#d9dde6"/>
<rect x="1278" y="1288" width="9" height="2" fill="#d9dde6"/>
<rect x="1296" y="1288" width="4" height="2" fill="#d9dde6"/>
<rect x="1313" y="1288" width="9" height="2" fill="#d9dde6"/>
<rect x="1327" y="1288" width="8" height="2" fill="#d9dde6"/>
<rect x="1392" y="1288" width="10" height="2" fill="#d9dde6"/>
<rect x="1407" y="1288" width="6" height="2" fill="#d9dde6"/>
<rect x="1426" y="1288" width="9" height="2" fill="#d9dde6"/>
<rect x="1440" y="1288" width="10" height="2" fill="#d9dde6"/>
<rect x="1504" y="1288" width="6" height="2" fill="#d9dde6"/>
<rect x="1518" y="1288" width="9" height="2" fill="#d9dde6"/>
<rect x="1540" y="1288" width="7" height="2" fill="#d9dde6"/>
<rect x="1554" y="1288" width="8" height="2" fill="#d9dde6"/>
<rect x="1618" y="1288" width="9" height="2" fill="#d9dde6"/>
<rect x="1635" y="1288" width="6" height="2" fill="#d9dde6"/>
<rect x="1652" y="1288" width="10" height="2" fill="#d9dde6"/>
<rect x="1667" y="1288" width="8" height="2" fill="#d9dde6"/>
<rect x="1730" y="1288" width="5" height="2" fill="#d9dde6"/>
<rect x="1743" y="1288" width="10" height="2" fill="#d9dde6"/>
<rect x="1764" y="1288" width="8" height="2" fill="#d9dde6"/>
<rect x="1778" y="1288" width="9" height="2" fill="#d9dde6"/>
<text x="1924" y="1288" font-size="29" fill="#dfe6f4" textLength="97" lengthAdjust="spacing" shape-rendering="auto">FX678</text>
</svg>
</body></html>
